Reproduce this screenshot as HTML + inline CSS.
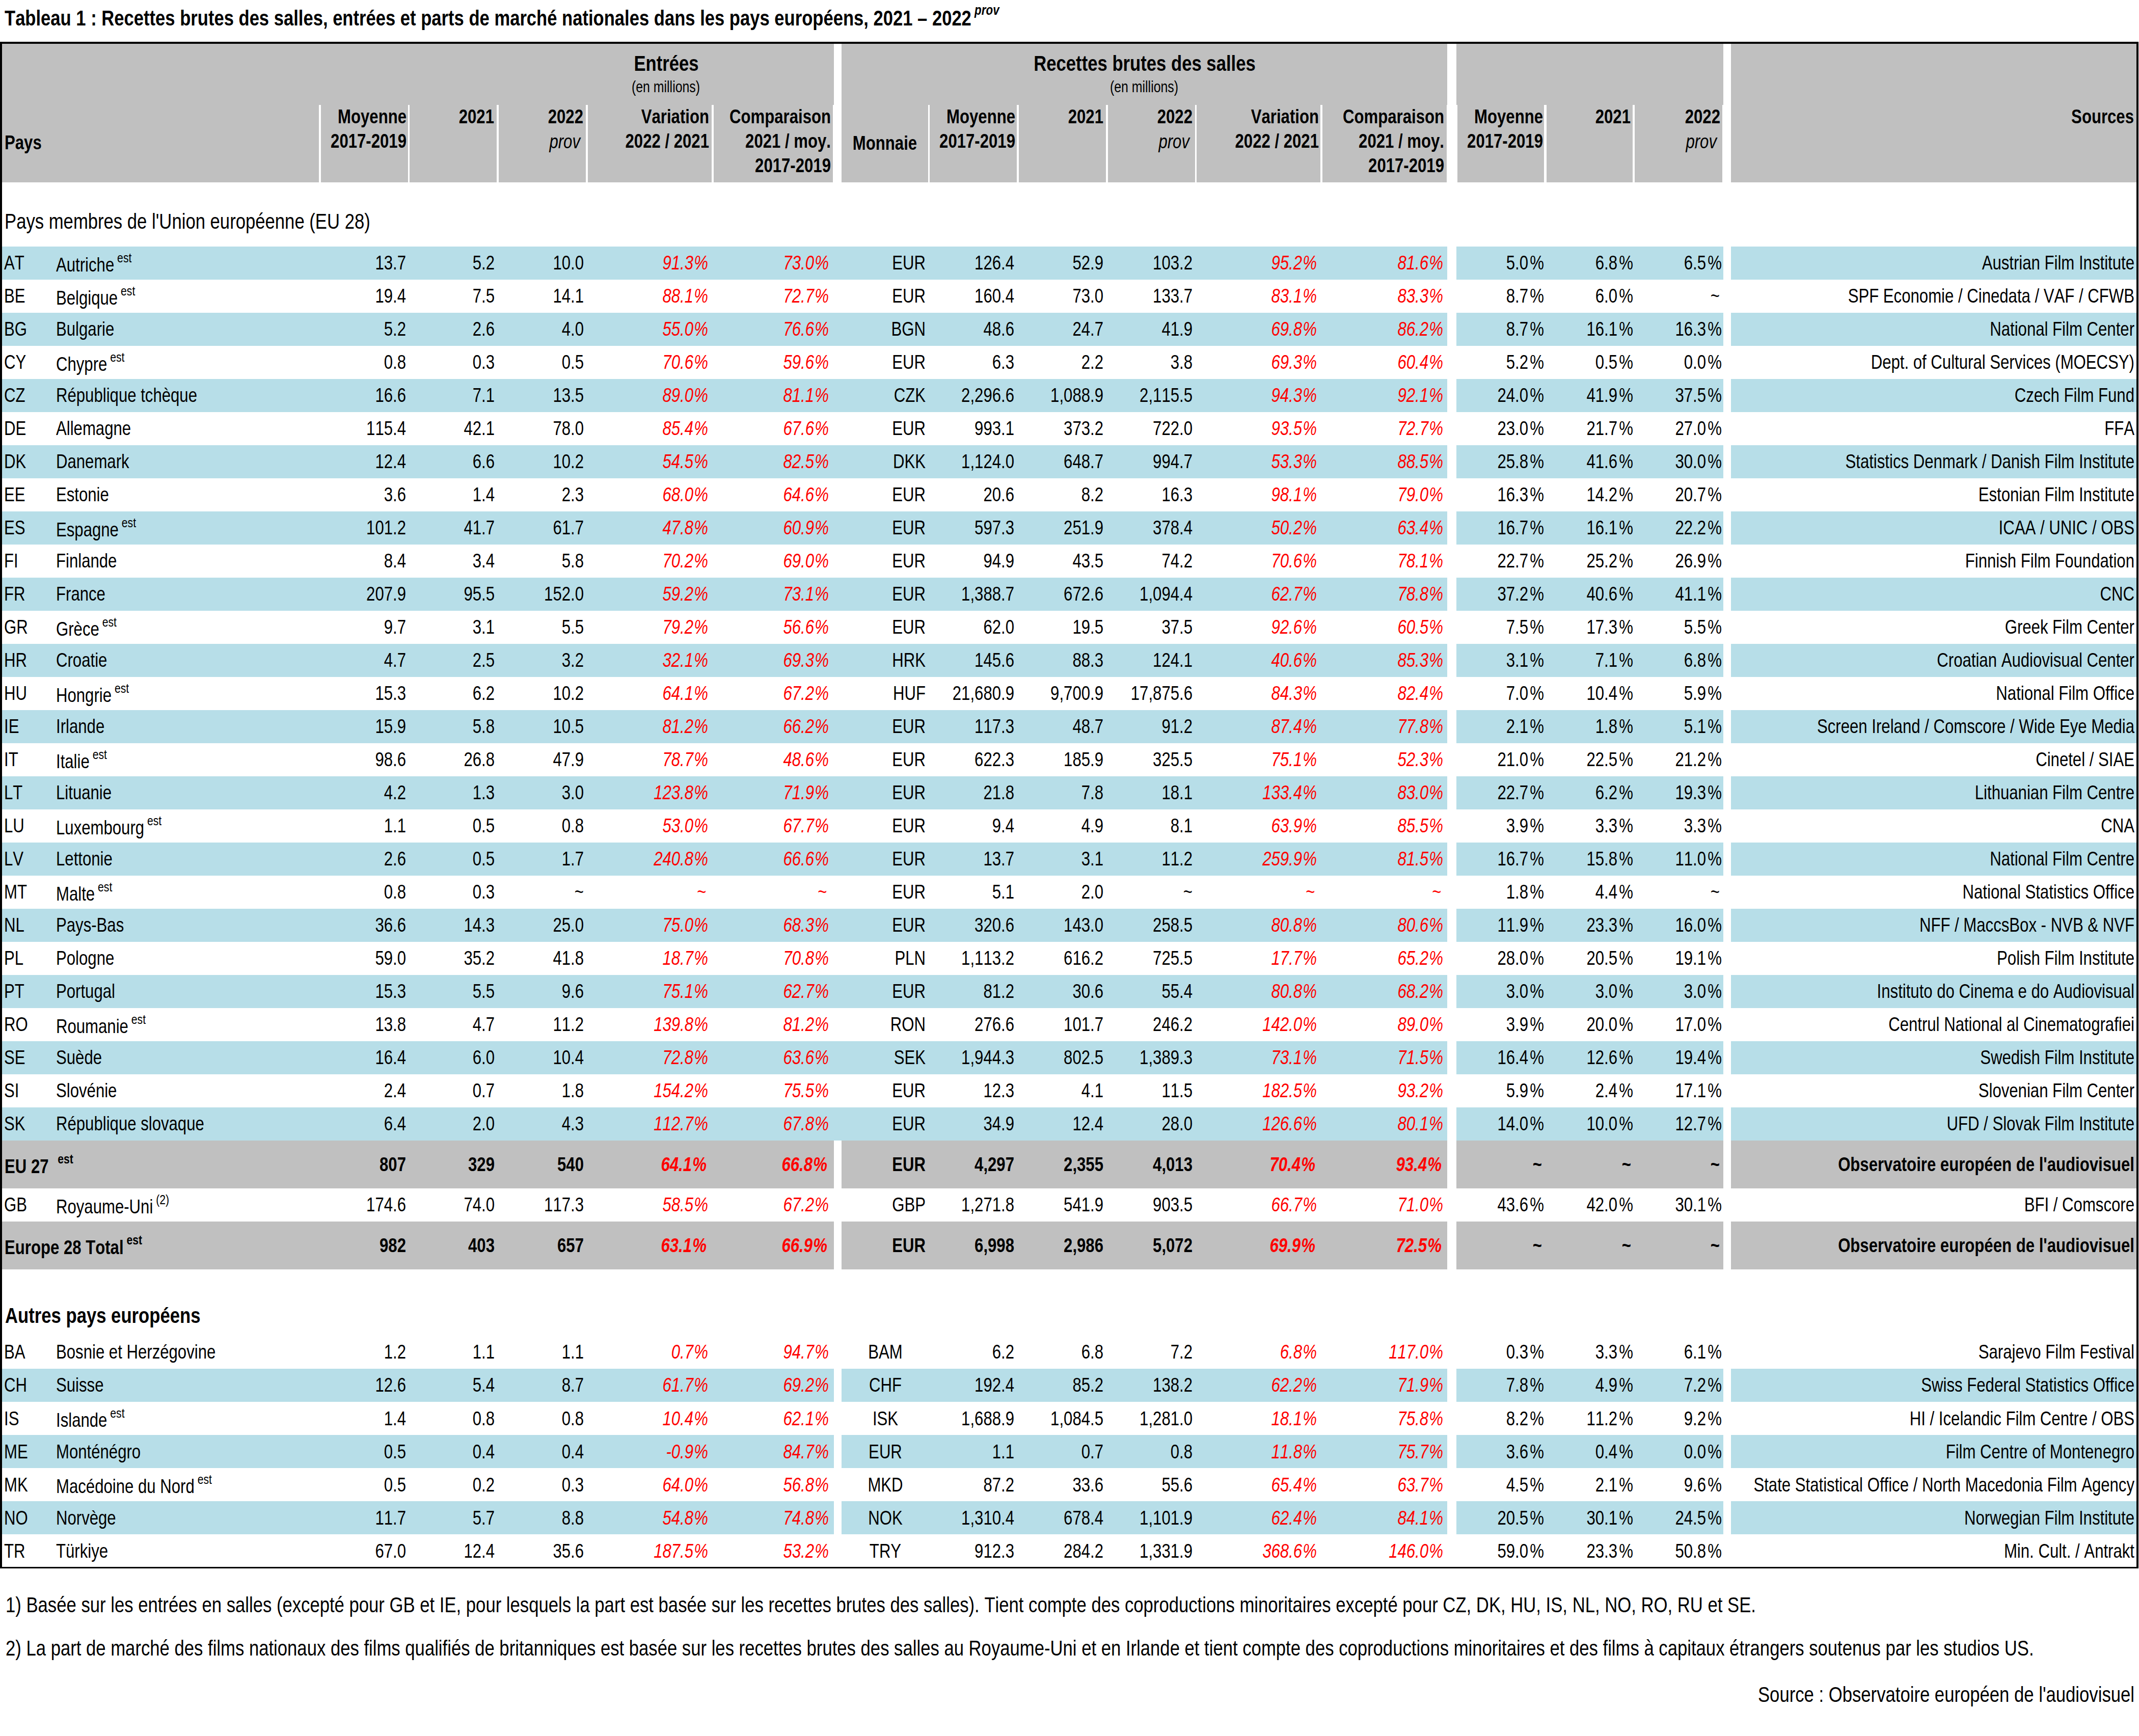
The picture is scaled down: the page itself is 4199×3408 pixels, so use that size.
<!DOCTYPE html>
<html lang="fr"><head><meta charset="utf-8"><title>Tableau 1</title>
<style>
html,body{margin:0;padding:0;background:#fff;}
body{width:4199px;height:3408px;position:relative;overflow:hidden;font-family:"Liberation Sans",Arial,sans-serif;color:#000;font-kerning:none;font-variant-ligatures:none;}
.r{position:absolute;}
.t{position:absolute;white-space:nowrap;line-height:1;transform:scaleX(0.814);}
.tl{transform-origin:0 0;}
.tr{width:3000px;text-align:right;transform-origin:100% 0;}
.tc{width:3000px;text-align:center;transform-origin:50% 0;}
.s{line-height:0;}
.pc{margin-left:4px;}
.i .pc{margin-left:1.5px;}
</style></head>
<body>
<div class="t tl" style="top:15.02px;font-size:42.5px;font-weight:bold;left:9.00px">Tableau 1 : Recettes brutes des salles, entrées et parts de marché nationales dans les pays européens, 2021 – 2022<span class="s" style="font-size:27.5px;vertical-align:21px;font-style:italic;"> prov</span></div>
<div class="r" style="left:0px;top:82px;width:4198px;height:4px;background:#000"></div>
<div class="r" style="left:0px;top:82px;width:4px;height:2997px;background:#000"></div>
<div class="r" style="left:4194px;top:82px;width:4px;height:2997px;background:#000"></div>
<div class="r" style="left:0px;top:3076px;width:4198px;height:3px;background:#000"></div>
<div class="r" style="left:4px;top:86px;width:1633px;height:120px;background:#c0c0c0"></div>
<div class="r" style="left:1652px;top:86px;width:1189px;height:120px;background:#c0c0c0"></div>
<div class="r" style="left:2859px;top:86px;width:524px;height:120px;background:#c0c0c0"></div>
<div class="r" style="left:3398px;top:86px;width:796px;height:120px;background:#c0c0c0"></div>
<div class="r" style="left:4px;top:206px;width:622px;height:152px;background:#c0c0c0"></div>
<div class="r" style="left:630px;top:206px;width:171px;height:152px;background:#c0c0c0"></div>
<div class="r" style="left:804px;top:206px;width:171px;height:152px;background:#c0c0c0"></div>
<div class="r" style="left:979px;top:206px;width:171px;height:152px;background:#c0c0c0"></div>
<div class="r" style="left:1154px;top:206px;width:243px;height:152px;background:#c0c0c0"></div>
<div class="r" style="left:1401px;top:206px;width:234px;height:152px;background:#c0c0c0"></div>
<div class="r" style="left:1652px;top:206px;width:170px;height:152px;background:#c0c0c0"></div>
<div class="r" style="left:1825px;top:206px;width:171px;height:152px;background:#c0c0c0"></div>
<div class="r" style="left:2000px;top:206px;width:171px;height:152px;background:#c0c0c0"></div>
<div class="r" style="left:2175px;top:206px;width:171px;height:152px;background:#c0c0c0"></div>
<div class="r" style="left:2349px;top:206px;width:243px;height:152px;background:#c0c0c0"></div>
<div class="r" style="left:2596px;top:206px;width:244px;height:152px;background:#c0c0c0"></div>
<div class="r" style="left:2861px;top:206px;width:170px;height:152px;background:#c0c0c0"></div>
<div class="r" style="left:3036px;top:206px;width:169px;height:152px;background:#c0c0c0"></div>
<div class="r" style="left:3209px;top:206px;width:172px;height:152px;background:#c0c0c0"></div>
<div class="r" style="left:3398px;top:206px;width:796px;height:152px;background:#c0c0c0"></div>
<div class="t tc" style="top:102.94px;font-size:42.6px;font-weight:bold;left:-192.50px">Entrées</div>
<div class="t tc" style="top:155.10px;font-size:30.6px;left:-193.00px">(en millions)</div>
<div class="t tc" style="top:102.94px;font-size:42.6px;font-weight:bold;left:746.50px">Recettes brutes des salles</div>
<div class="t tc" style="top:155.10px;font-size:30.6px;left:746.00px">(en millions)</div>
<div class="t tl" style="top:260.62px;font-size:38.25px;font-weight:bold;left:9.00px">Pays</div>
<div class="t tc" style="top:261.62px;font-size:38.25px;font-weight:bold;left:237.00px">Monnaie</div>
<div class="t tr" style="top:209.62px;font-size:38.25px;font-weight:bold;left:1189.00px">Sources</div>
<div class="t tr" style="top:209.62px;font-size:38.25px;font-weight:bold;left:-2202.50px">Moyenne</div>
<div class="t tr" style="top:257.62px;font-size:38.25px;font-weight:bold;left:-2202.50px">2017-2019</div>
<div class="t tr" style="top:209.62px;font-size:38.25px;font-weight:bold;left:-2030.00px">2021</div>
<div class="t tr" style="top:209.62px;font-size:38.25px;font-weight:bold;left:-1855.00px">2022</div>
<div class="t tr i" style="top:259.12px;font-size:38.25px;font-style:italic;left:-1861.50px">prov</div>
<div class="t tr" style="top:209.62px;font-size:38.25px;font-weight:bold;left:-1608.00px">Variation</div>
<div class="t tr" style="top:257.62px;font-size:38.25px;font-weight:bold;left:-1608.00px">2022 / 2021</div>
<div class="t tr" style="top:209.62px;font-size:38.25px;font-weight:bold;left:-1369.50px">Comparaison</div>
<div class="t tr" style="top:257.62px;font-size:38.25px;font-weight:bold;left:-1369.50px">2021 / moy.</div>
<div class="t tr" style="top:305.62px;font-size:38.25px;font-weight:bold;left:-1369.50px">2017-2019</div>
<div class="t tr" style="top:209.62px;font-size:38.25px;font-weight:bold;left:-1007.00px">Moyenne</div>
<div class="t tr" style="top:257.62px;font-size:38.25px;font-weight:bold;left:-1007.00px">2017-2019</div>
<div class="t tr" style="top:209.62px;font-size:38.25px;font-weight:bold;left:-834.00px">2021</div>
<div class="t tr" style="top:209.62px;font-size:38.25px;font-weight:bold;left:-659.00px">2022</div>
<div class="t tr i" style="top:259.12px;font-size:38.25px;font-style:italic;left:-665.50px">prov</div>
<div class="t tr" style="top:209.62px;font-size:38.25px;font-weight:bold;left:-411.50px">Variation</div>
<div class="t tr" style="top:257.62px;font-size:38.25px;font-weight:bold;left:-411.50px">2022 / 2021</div>
<div class="t tr" style="top:209.62px;font-size:38.25px;font-weight:bold;left:-165.50px">Comparaison</div>
<div class="t tr" style="top:257.62px;font-size:38.25px;font-weight:bold;left:-165.50px">2021 / moy.</div>
<div class="t tr" style="top:305.62px;font-size:38.25px;font-weight:bold;left:-165.50px">2017-2019</div>
<div class="t tr" style="top:209.62px;font-size:38.25px;font-weight:bold;left:28.50px">Moyenne</div>
<div class="t tr" style="top:257.62px;font-size:38.25px;font-weight:bold;left:28.50px">2017-2019</div>
<div class="t tr" style="top:209.62px;font-size:38.25px;font-weight:bold;left:201.00px">2021</div>
<div class="t tr" style="top:209.62px;font-size:38.25px;font-weight:bold;left:376.50px">2022</div>
<div class="t tr i" style="top:259.12px;font-size:38.25px;font-style:italic;left:370.00px">prov</div>
<div class="t tl" style="top:412.94px;font-size:42.6px;left:9.00px">Pays membres de l'Union européenne (EU 28)</div>
<div class="r" style="left:4px;top:484px;width:2837px;height:65px;background:#b7dee8"></div>
<div class="r" style="left:2859px;top:484px;width:524px;height:65px;background:#b7dee8"></div>
<div class="r" style="left:3398px;top:484px;width:796px;height:65px;background:#b7dee8"></div>
<div class="t tl" style="top:496.62px;font-size:38.25px;left:8.00px">AT</div>
<div class="t tl" style="top:500.62px;font-size:38.25px;left:110.00px">Autriche<span class="s" style="font-size:26px;vertical-align:18px;"> est</span></div>
<div class="t tr" style="top:496.62px;font-size:38.25px;left:-2203.50px">13.7</div>
<div class="t tr" style="top:496.62px;font-size:38.25px;left:-2029.50px">5.2</div>
<div class="t tr" style="top:496.62px;font-size:38.25px;left:-1854.00px">10.0</div>
<div class="t tr i" style="top:496.62px;font-size:38.25px;font-style:italic;color:#ff0000;left:-1610.00px">91.3<span class="pc">%</span></div>
<div class="t tr i" style="top:496.62px;font-size:38.25px;font-style:italic;color:#ff0000;left:-1373.00px">73.0<span class="pc">%</span></div>
<div class="t tr" style="top:496.62px;font-size:38.25px;left:-1183.00px">EUR</div>
<div class="t tr" style="top:496.62px;font-size:38.25px;left:-1009.50px">126.4</div>
<div class="t tr" style="top:496.62px;font-size:38.25px;left:-834.00px">52.9</div>
<div class="t tr" style="top:496.62px;font-size:38.25px;left:-659.00px">103.2</div>
<div class="t tr i" style="top:496.62px;font-size:38.25px;font-style:italic;color:#ff0000;left:-415.00px">95.2<span class="pc">%</span></div>
<div class="t tr i" style="top:496.62px;font-size:38.25px;font-style:italic;color:#ff0000;left:-167.00px">81.6<span class="pc">%</span></div>
<div class="t tr" style="top:496.62px;font-size:38.25px;left:31.00px">5.0<span class="pc">%</span></div>
<div class="t tr" style="top:496.62px;font-size:38.25px;left:206.00px">6.8<span class="pc">%</span></div>
<div class="t tr" style="top:496.62px;font-size:38.25px;left:380.00px">6.5<span class="pc">%</span></div>
<div class="t tr" style="top:496.62px;font-size:38.25px;left:1190.00px">Austrian Film Institute</div>
<div class="t tl" style="top:561.62px;font-size:38.25px;left:8.00px">BE</div>
<div class="t tl" style="top:565.62px;font-size:38.25px;left:110.00px">Belgique<span class="s" style="font-size:26px;vertical-align:18px;"> est</span></div>
<div class="t tr" style="top:561.62px;font-size:38.25px;left:-2203.50px">19.4</div>
<div class="t tr" style="top:561.62px;font-size:38.25px;left:-2029.50px">7.5</div>
<div class="t tr" style="top:561.62px;font-size:38.25px;left:-1854.00px">14.1</div>
<div class="t tr i" style="top:561.62px;font-size:38.25px;font-style:italic;color:#ff0000;left:-1610.00px">88.1<span class="pc">%</span></div>
<div class="t tr i" style="top:561.62px;font-size:38.25px;font-style:italic;color:#ff0000;left:-1373.00px">72.7<span class="pc">%</span></div>
<div class="t tr" style="top:561.62px;font-size:38.25px;left:-1183.00px">EUR</div>
<div class="t tr" style="top:561.62px;font-size:38.25px;left:-1009.50px">160.4</div>
<div class="t tr" style="top:561.62px;font-size:38.25px;left:-834.00px">73.0</div>
<div class="t tr" style="top:561.62px;font-size:38.25px;left:-659.00px">133.7</div>
<div class="t tr i" style="top:561.62px;font-size:38.25px;font-style:italic;color:#ff0000;left:-415.00px">83.1<span class="pc">%</span></div>
<div class="t tr i" style="top:561.62px;font-size:38.25px;font-style:italic;color:#ff0000;left:-167.00px">83.3<span class="pc">%</span></div>
<div class="t tr" style="top:561.62px;font-size:38.25px;left:31.00px">8.7<span class="pc">%</span></div>
<div class="t tr" style="top:561.62px;font-size:38.25px;left:206.00px">6.0<span class="pc">%</span></div>
<div class="t tr" style="top:561.62px;font-size:38.25px;left:376.00px">~</div>
<div class="t tr" style="top:561.62px;font-size:38.25px;left:1190.00px">SPF Economie / Cinedata / VAF / CFWB</div>
<div class="r" style="left:4px;top:614px;width:2837px;height:65px;background:#b7dee8"></div>
<div class="r" style="left:2859px;top:614px;width:524px;height:65px;background:#b7dee8"></div>
<div class="r" style="left:3398px;top:614px;width:796px;height:65px;background:#b7dee8"></div>
<div class="t tl" style="top:626.62px;font-size:38.25px;left:8.00px">BG</div>
<div class="t tl" style="top:626.62px;font-size:38.25px;left:110.00px">Bulgarie</div>
<div class="t tr" style="top:626.62px;font-size:38.25px;left:-2203.50px">5.2</div>
<div class="t tr" style="top:626.62px;font-size:38.25px;left:-2029.50px">2.6</div>
<div class="t tr" style="top:626.62px;font-size:38.25px;left:-1854.00px">4.0</div>
<div class="t tr i" style="top:626.62px;font-size:38.25px;font-style:italic;color:#ff0000;left:-1610.00px">55.0<span class="pc">%</span></div>
<div class="t tr i" style="top:626.62px;font-size:38.25px;font-style:italic;color:#ff0000;left:-1373.00px">76.6<span class="pc">%</span></div>
<div class="t tr" style="top:626.62px;font-size:38.25px;left:-1183.00px">BGN</div>
<div class="t tr" style="top:626.62px;font-size:38.25px;left:-1009.50px">48.6</div>
<div class="t tr" style="top:626.62px;font-size:38.25px;left:-834.00px">24.7</div>
<div class="t tr" style="top:626.62px;font-size:38.25px;left:-659.00px">41.9</div>
<div class="t tr i" style="top:626.62px;font-size:38.25px;font-style:italic;color:#ff0000;left:-415.00px">69.8<span class="pc">%</span></div>
<div class="t tr i" style="top:626.62px;font-size:38.25px;font-style:italic;color:#ff0000;left:-167.00px">86.2<span class="pc">%</span></div>
<div class="t tr" style="top:626.62px;font-size:38.25px;left:31.00px">8.7<span class="pc">%</span></div>
<div class="t tr" style="top:626.62px;font-size:38.25px;left:206.00px">16.1<span class="pc">%</span></div>
<div class="t tr" style="top:626.62px;font-size:38.25px;left:380.00px">16.3<span class="pc">%</span></div>
<div class="t tr" style="top:626.62px;font-size:38.25px;left:1190.00px">National Film Center</div>
<div class="t tl" style="top:691.62px;font-size:38.25px;left:8.00px">CY</div>
<div class="t tl" style="top:695.62px;font-size:38.25px;left:110.00px">Chypre<span class="s" style="font-size:26px;vertical-align:18px;"> est</span></div>
<div class="t tr" style="top:691.62px;font-size:38.25px;left:-2203.50px">0.8</div>
<div class="t tr" style="top:691.62px;font-size:38.25px;left:-2029.50px">0.3</div>
<div class="t tr" style="top:691.62px;font-size:38.25px;left:-1854.00px">0.5</div>
<div class="t tr i" style="top:691.62px;font-size:38.25px;font-style:italic;color:#ff0000;left:-1610.00px">70.6<span class="pc">%</span></div>
<div class="t tr i" style="top:691.62px;font-size:38.25px;font-style:italic;color:#ff0000;left:-1373.00px">59.6<span class="pc">%</span></div>
<div class="t tr" style="top:691.62px;font-size:38.25px;left:-1183.00px">EUR</div>
<div class="t tr" style="top:691.62px;font-size:38.25px;left:-1009.50px">6.3</div>
<div class="t tr" style="top:691.62px;font-size:38.25px;left:-834.00px">2.2</div>
<div class="t tr" style="top:691.62px;font-size:38.25px;left:-659.00px">3.8</div>
<div class="t tr i" style="top:691.62px;font-size:38.25px;font-style:italic;color:#ff0000;left:-415.00px">69.3<span class="pc">%</span></div>
<div class="t tr i" style="top:691.62px;font-size:38.25px;font-style:italic;color:#ff0000;left:-167.00px">60.4<span class="pc">%</span></div>
<div class="t tr" style="top:691.62px;font-size:38.25px;left:31.00px">5.2<span class="pc">%</span></div>
<div class="t tr" style="top:691.62px;font-size:38.25px;left:206.00px">0.5<span class="pc">%</span></div>
<div class="t tr" style="top:691.62px;font-size:38.25px;left:380.00px">0.0<span class="pc">%</span></div>
<div class="t tr" style="top:691.62px;font-size:38.25px;left:1190.00px">Dept. of Cultural Services (MOECSY)</div>
<div class="r" style="left:4px;top:744px;width:2837px;height:65px;background:#b7dee8"></div>
<div class="r" style="left:2859px;top:744px;width:524px;height:65px;background:#b7dee8"></div>
<div class="r" style="left:3398px;top:744px;width:796px;height:65px;background:#b7dee8"></div>
<div class="t tl" style="top:756.62px;font-size:38.25px;left:8.00px">CZ</div>
<div class="t tl" style="top:756.62px;font-size:38.25px;left:110.00px">République tchèque</div>
<div class="t tr" style="top:756.62px;font-size:38.25px;left:-2203.50px">16.6</div>
<div class="t tr" style="top:756.62px;font-size:38.25px;left:-2029.50px">7.1</div>
<div class="t tr" style="top:756.62px;font-size:38.25px;left:-1854.00px">13.5</div>
<div class="t tr i" style="top:756.62px;font-size:38.25px;font-style:italic;color:#ff0000;left:-1610.00px">89.0<span class="pc">%</span></div>
<div class="t tr i" style="top:756.62px;font-size:38.25px;font-style:italic;color:#ff0000;left:-1373.00px">81.1<span class="pc">%</span></div>
<div class="t tr" style="top:756.62px;font-size:38.25px;left:-1183.00px">CZK</div>
<div class="t tr" style="top:756.62px;font-size:38.25px;left:-1009.50px">2,296.6</div>
<div class="t tr" style="top:756.62px;font-size:38.25px;left:-834.00px">1,088.9</div>
<div class="t tr" style="top:756.62px;font-size:38.25px;left:-659.00px">2,115.5</div>
<div class="t tr i" style="top:756.62px;font-size:38.25px;font-style:italic;color:#ff0000;left:-415.00px">94.3<span class="pc">%</span></div>
<div class="t tr i" style="top:756.62px;font-size:38.25px;font-style:italic;color:#ff0000;left:-167.00px">92.1<span class="pc">%</span></div>
<div class="t tr" style="top:756.62px;font-size:38.25px;left:31.00px">24.0<span class="pc">%</span></div>
<div class="t tr" style="top:756.62px;font-size:38.25px;left:206.00px">41.9<span class="pc">%</span></div>
<div class="t tr" style="top:756.62px;font-size:38.25px;left:380.00px">37.5<span class="pc">%</span></div>
<div class="t tr" style="top:756.62px;font-size:38.25px;left:1190.00px">Czech Film Fund</div>
<div class="t tl" style="top:821.62px;font-size:38.25px;left:8.00px">DE</div>
<div class="t tl" style="top:821.62px;font-size:38.25px;left:110.00px">Allemagne</div>
<div class="t tr" style="top:821.62px;font-size:38.25px;left:-2203.50px">115.4</div>
<div class="t tr" style="top:821.62px;font-size:38.25px;left:-2029.50px">42.1</div>
<div class="t tr" style="top:821.62px;font-size:38.25px;left:-1854.00px">78.0</div>
<div class="t tr i" style="top:821.62px;font-size:38.25px;font-style:italic;color:#ff0000;left:-1610.00px">85.4<span class="pc">%</span></div>
<div class="t tr i" style="top:821.62px;font-size:38.25px;font-style:italic;color:#ff0000;left:-1373.00px">67.6<span class="pc">%</span></div>
<div class="t tr" style="top:821.62px;font-size:38.25px;left:-1183.00px">EUR</div>
<div class="t tr" style="top:821.62px;font-size:38.25px;left:-1009.50px">993.1</div>
<div class="t tr" style="top:821.62px;font-size:38.25px;left:-834.00px">373.2</div>
<div class="t tr" style="top:821.62px;font-size:38.25px;left:-659.00px">722.0</div>
<div class="t tr i" style="top:821.62px;font-size:38.25px;font-style:italic;color:#ff0000;left:-415.00px">93.5<span class="pc">%</span></div>
<div class="t tr i" style="top:821.62px;font-size:38.25px;font-style:italic;color:#ff0000;left:-167.00px">72.7<span class="pc">%</span></div>
<div class="t tr" style="top:821.62px;font-size:38.25px;left:31.00px">23.0<span class="pc">%</span></div>
<div class="t tr" style="top:821.62px;font-size:38.25px;left:206.00px">21.7<span class="pc">%</span></div>
<div class="t tr" style="top:821.62px;font-size:38.25px;left:380.00px">27.0<span class="pc">%</span></div>
<div class="t tr" style="top:821.62px;font-size:38.25px;left:1190.00px">FFA</div>
<div class="r" style="left:4px;top:874px;width:2837px;height:65px;background:#b7dee8"></div>
<div class="r" style="left:2859px;top:874px;width:524px;height:65px;background:#b7dee8"></div>
<div class="r" style="left:3398px;top:874px;width:796px;height:65px;background:#b7dee8"></div>
<div class="t tl" style="top:886.62px;font-size:38.25px;left:8.00px">DK</div>
<div class="t tl" style="top:886.62px;font-size:38.25px;left:110.00px">Danemark</div>
<div class="t tr" style="top:886.62px;font-size:38.25px;left:-2203.50px">12.4</div>
<div class="t tr" style="top:886.62px;font-size:38.25px;left:-2029.50px">6.6</div>
<div class="t tr" style="top:886.62px;font-size:38.25px;left:-1854.00px">10.2</div>
<div class="t tr i" style="top:886.62px;font-size:38.25px;font-style:italic;color:#ff0000;left:-1610.00px">54.5<span class="pc">%</span></div>
<div class="t tr i" style="top:886.62px;font-size:38.25px;font-style:italic;color:#ff0000;left:-1373.00px">82.5<span class="pc">%</span></div>
<div class="t tr" style="top:886.62px;font-size:38.25px;left:-1183.00px">DKK</div>
<div class="t tr" style="top:886.62px;font-size:38.25px;left:-1009.50px">1,124.0</div>
<div class="t tr" style="top:886.62px;font-size:38.25px;left:-834.00px">648.7</div>
<div class="t tr" style="top:886.62px;font-size:38.25px;left:-659.00px">994.7</div>
<div class="t tr i" style="top:886.62px;font-size:38.25px;font-style:italic;color:#ff0000;left:-415.00px">53.3<span class="pc">%</span></div>
<div class="t tr i" style="top:886.62px;font-size:38.25px;font-style:italic;color:#ff0000;left:-167.00px">88.5<span class="pc">%</span></div>
<div class="t tr" style="top:886.62px;font-size:38.25px;left:31.00px">25.8<span class="pc">%</span></div>
<div class="t tr" style="top:886.62px;font-size:38.25px;left:206.00px">41.6<span class="pc">%</span></div>
<div class="t tr" style="top:886.62px;font-size:38.25px;left:380.00px">30.0<span class="pc">%</span></div>
<div class="t tr" style="top:886.62px;font-size:38.25px;left:1190.00px">Statistics Denmark / Danish Film Institute</div>
<div class="t tl" style="top:951.62px;font-size:38.25px;left:8.00px">EE</div>
<div class="t tl" style="top:951.62px;font-size:38.25px;left:110.00px">Estonie</div>
<div class="t tr" style="top:951.62px;font-size:38.25px;left:-2203.50px">3.6</div>
<div class="t tr" style="top:951.62px;font-size:38.25px;left:-2029.50px">1.4</div>
<div class="t tr" style="top:951.62px;font-size:38.25px;left:-1854.00px">2.3</div>
<div class="t tr i" style="top:951.62px;font-size:38.25px;font-style:italic;color:#ff0000;left:-1610.00px">68.0<span class="pc">%</span></div>
<div class="t tr i" style="top:951.62px;font-size:38.25px;font-style:italic;color:#ff0000;left:-1373.00px">64.6<span class="pc">%</span></div>
<div class="t tr" style="top:951.62px;font-size:38.25px;left:-1183.00px">EUR</div>
<div class="t tr" style="top:951.62px;font-size:38.25px;left:-1009.50px">20.6</div>
<div class="t tr" style="top:951.62px;font-size:38.25px;left:-834.00px">8.2</div>
<div class="t tr" style="top:951.62px;font-size:38.25px;left:-659.00px">16.3</div>
<div class="t tr i" style="top:951.62px;font-size:38.25px;font-style:italic;color:#ff0000;left:-415.00px">98.1<span class="pc">%</span></div>
<div class="t tr i" style="top:951.62px;font-size:38.25px;font-style:italic;color:#ff0000;left:-167.00px">79.0<span class="pc">%</span></div>
<div class="t tr" style="top:951.62px;font-size:38.25px;left:31.00px">16.3<span class="pc">%</span></div>
<div class="t tr" style="top:951.62px;font-size:38.25px;left:206.00px">14.2<span class="pc">%</span></div>
<div class="t tr" style="top:951.62px;font-size:38.25px;left:380.00px">20.7<span class="pc">%</span></div>
<div class="t tr" style="top:951.62px;font-size:38.25px;left:1190.00px">Estonian Film Institute</div>
<div class="r" style="left:4px;top:1004px;width:2837px;height:65px;background:#b7dee8"></div>
<div class="r" style="left:2859px;top:1004px;width:524px;height:65px;background:#b7dee8"></div>
<div class="r" style="left:3398px;top:1004px;width:796px;height:65px;background:#b7dee8"></div>
<div class="t tl" style="top:1016.62px;font-size:38.25px;left:8.00px">ES</div>
<div class="t tl" style="top:1020.62px;font-size:38.25px;left:110.00px">Espagne<span class="s" style="font-size:26px;vertical-align:18px;"> est</span></div>
<div class="t tr" style="top:1016.62px;font-size:38.25px;left:-2203.50px">101.2</div>
<div class="t tr" style="top:1016.62px;font-size:38.25px;left:-2029.50px">41.7</div>
<div class="t tr" style="top:1016.62px;font-size:38.25px;left:-1854.00px">61.7</div>
<div class="t tr i" style="top:1016.62px;font-size:38.25px;font-style:italic;color:#ff0000;left:-1610.00px">47.8<span class="pc">%</span></div>
<div class="t tr i" style="top:1016.62px;font-size:38.25px;font-style:italic;color:#ff0000;left:-1373.00px">60.9<span class="pc">%</span></div>
<div class="t tr" style="top:1016.62px;font-size:38.25px;left:-1183.00px">EUR</div>
<div class="t tr" style="top:1016.62px;font-size:38.25px;left:-1009.50px">597.3</div>
<div class="t tr" style="top:1016.62px;font-size:38.25px;left:-834.00px">251.9</div>
<div class="t tr" style="top:1016.62px;font-size:38.25px;left:-659.00px">378.4</div>
<div class="t tr i" style="top:1016.62px;font-size:38.25px;font-style:italic;color:#ff0000;left:-415.00px">50.2<span class="pc">%</span></div>
<div class="t tr i" style="top:1016.62px;font-size:38.25px;font-style:italic;color:#ff0000;left:-167.00px">63.4<span class="pc">%</span></div>
<div class="t tr" style="top:1016.62px;font-size:38.25px;left:31.00px">16.7<span class="pc">%</span></div>
<div class="t tr" style="top:1016.62px;font-size:38.25px;left:206.00px">16.1<span class="pc">%</span></div>
<div class="t tr" style="top:1016.62px;font-size:38.25px;left:380.00px">22.2<span class="pc">%</span></div>
<div class="t tr" style="top:1016.62px;font-size:38.25px;left:1190.00px">ICAA / UNIC / OBS</div>
<div class="t tl" style="top:1081.62px;font-size:38.25px;left:8.00px">FI</div>
<div class="t tl" style="top:1081.62px;font-size:38.25px;left:110.00px">Finlande</div>
<div class="t tr" style="top:1081.62px;font-size:38.25px;left:-2203.50px">8.4</div>
<div class="t tr" style="top:1081.62px;font-size:38.25px;left:-2029.50px">3.4</div>
<div class="t tr" style="top:1081.62px;font-size:38.25px;left:-1854.00px">5.8</div>
<div class="t tr i" style="top:1081.62px;font-size:38.25px;font-style:italic;color:#ff0000;left:-1610.00px">70.2<span class="pc">%</span></div>
<div class="t tr i" style="top:1081.62px;font-size:38.25px;font-style:italic;color:#ff0000;left:-1373.00px">69.0<span class="pc">%</span></div>
<div class="t tr" style="top:1081.62px;font-size:38.25px;left:-1183.00px">EUR</div>
<div class="t tr" style="top:1081.62px;font-size:38.25px;left:-1009.50px">94.9</div>
<div class="t tr" style="top:1081.62px;font-size:38.25px;left:-834.00px">43.5</div>
<div class="t tr" style="top:1081.62px;font-size:38.25px;left:-659.00px">74.2</div>
<div class="t tr i" style="top:1081.62px;font-size:38.25px;font-style:italic;color:#ff0000;left:-415.00px">70.6<span class="pc">%</span></div>
<div class="t tr i" style="top:1081.62px;font-size:38.25px;font-style:italic;color:#ff0000;left:-167.00px">78.1<span class="pc">%</span></div>
<div class="t tr" style="top:1081.62px;font-size:38.25px;left:31.00px">22.7<span class="pc">%</span></div>
<div class="t tr" style="top:1081.62px;font-size:38.25px;left:206.00px">25.2<span class="pc">%</span></div>
<div class="t tr" style="top:1081.62px;font-size:38.25px;left:380.00px">26.9<span class="pc">%</span></div>
<div class="t tr" style="top:1081.62px;font-size:38.25px;left:1190.00px">Finnish Film Foundation</div>
<div class="r" style="left:4px;top:1134px;width:2837px;height:65px;background:#b7dee8"></div>
<div class="r" style="left:2859px;top:1134px;width:524px;height:65px;background:#b7dee8"></div>
<div class="r" style="left:3398px;top:1134px;width:796px;height:65px;background:#b7dee8"></div>
<div class="t tl" style="top:1146.62px;font-size:38.25px;left:8.00px">FR</div>
<div class="t tl" style="top:1146.62px;font-size:38.25px;left:110.00px">France</div>
<div class="t tr" style="top:1146.62px;font-size:38.25px;left:-2203.50px">207.9</div>
<div class="t tr" style="top:1146.62px;font-size:38.25px;left:-2029.50px">95.5</div>
<div class="t tr" style="top:1146.62px;font-size:38.25px;left:-1854.00px">152.0</div>
<div class="t tr i" style="top:1146.62px;font-size:38.25px;font-style:italic;color:#ff0000;left:-1610.00px">59.2<span class="pc">%</span></div>
<div class="t tr i" style="top:1146.62px;font-size:38.25px;font-style:italic;color:#ff0000;left:-1373.00px">73.1<span class="pc">%</span></div>
<div class="t tr" style="top:1146.62px;font-size:38.25px;left:-1183.00px">EUR</div>
<div class="t tr" style="top:1146.62px;font-size:38.25px;left:-1009.50px">1,388.7</div>
<div class="t tr" style="top:1146.62px;font-size:38.25px;left:-834.00px">672.6</div>
<div class="t tr" style="top:1146.62px;font-size:38.25px;left:-659.00px">1,094.4</div>
<div class="t tr i" style="top:1146.62px;font-size:38.25px;font-style:italic;color:#ff0000;left:-415.00px">62.7<span class="pc">%</span></div>
<div class="t tr i" style="top:1146.62px;font-size:38.25px;font-style:italic;color:#ff0000;left:-167.00px">78.8<span class="pc">%</span></div>
<div class="t tr" style="top:1146.62px;font-size:38.25px;left:31.00px">37.2<span class="pc">%</span></div>
<div class="t tr" style="top:1146.62px;font-size:38.25px;left:206.00px">40.6<span class="pc">%</span></div>
<div class="t tr" style="top:1146.62px;font-size:38.25px;left:380.00px">41.1<span class="pc">%</span></div>
<div class="t tr" style="top:1146.62px;font-size:38.25px;left:1190.00px">CNC</div>
<div class="t tl" style="top:1211.62px;font-size:38.25px;left:8.00px">GR</div>
<div class="t tl" style="top:1215.62px;font-size:38.25px;left:110.00px">Grèce<span class="s" style="font-size:26px;vertical-align:18px;"> est</span></div>
<div class="t tr" style="top:1211.62px;font-size:38.25px;left:-2203.50px">9.7</div>
<div class="t tr" style="top:1211.62px;font-size:38.25px;left:-2029.50px">3.1</div>
<div class="t tr" style="top:1211.62px;font-size:38.25px;left:-1854.00px">5.5</div>
<div class="t tr i" style="top:1211.62px;font-size:38.25px;font-style:italic;color:#ff0000;left:-1610.00px">79.2<span class="pc">%</span></div>
<div class="t tr i" style="top:1211.62px;font-size:38.25px;font-style:italic;color:#ff0000;left:-1373.00px">56.6<span class="pc">%</span></div>
<div class="t tr" style="top:1211.62px;font-size:38.25px;left:-1183.00px">EUR</div>
<div class="t tr" style="top:1211.62px;font-size:38.25px;left:-1009.50px">62.0</div>
<div class="t tr" style="top:1211.62px;font-size:38.25px;left:-834.00px">19.5</div>
<div class="t tr" style="top:1211.62px;font-size:38.25px;left:-659.00px">37.5</div>
<div class="t tr i" style="top:1211.62px;font-size:38.25px;font-style:italic;color:#ff0000;left:-415.00px">92.6<span class="pc">%</span></div>
<div class="t tr i" style="top:1211.62px;font-size:38.25px;font-style:italic;color:#ff0000;left:-167.00px">60.5<span class="pc">%</span></div>
<div class="t tr" style="top:1211.62px;font-size:38.25px;left:31.00px">7.5<span class="pc">%</span></div>
<div class="t tr" style="top:1211.62px;font-size:38.25px;left:206.00px">17.3<span class="pc">%</span></div>
<div class="t tr" style="top:1211.62px;font-size:38.25px;left:380.00px">5.5<span class="pc">%</span></div>
<div class="t tr" style="top:1211.62px;font-size:38.25px;left:1190.00px">Greek Film Center</div>
<div class="r" style="left:4px;top:1264px;width:2837px;height:65px;background:#b7dee8"></div>
<div class="r" style="left:2859px;top:1264px;width:524px;height:65px;background:#b7dee8"></div>
<div class="r" style="left:3398px;top:1264px;width:796px;height:65px;background:#b7dee8"></div>
<div class="t tl" style="top:1276.62px;font-size:38.25px;left:8.00px">HR</div>
<div class="t tl" style="top:1276.62px;font-size:38.25px;left:110.00px">Croatie</div>
<div class="t tr" style="top:1276.62px;font-size:38.25px;left:-2203.50px">4.7</div>
<div class="t tr" style="top:1276.62px;font-size:38.25px;left:-2029.50px">2.5</div>
<div class="t tr" style="top:1276.62px;font-size:38.25px;left:-1854.00px">3.2</div>
<div class="t tr i" style="top:1276.62px;font-size:38.25px;font-style:italic;color:#ff0000;left:-1610.00px">32.1<span class="pc">%</span></div>
<div class="t tr i" style="top:1276.62px;font-size:38.25px;font-style:italic;color:#ff0000;left:-1373.00px">69.3<span class="pc">%</span></div>
<div class="t tr" style="top:1276.62px;font-size:38.25px;left:-1183.00px">HRK</div>
<div class="t tr" style="top:1276.62px;font-size:38.25px;left:-1009.50px">145.6</div>
<div class="t tr" style="top:1276.62px;font-size:38.25px;left:-834.00px">88.3</div>
<div class="t tr" style="top:1276.62px;font-size:38.25px;left:-659.00px">124.1</div>
<div class="t tr i" style="top:1276.62px;font-size:38.25px;font-style:italic;color:#ff0000;left:-415.00px">40.6<span class="pc">%</span></div>
<div class="t tr i" style="top:1276.62px;font-size:38.25px;font-style:italic;color:#ff0000;left:-167.00px">85.3<span class="pc">%</span></div>
<div class="t tr" style="top:1276.62px;font-size:38.25px;left:31.00px">3.1<span class="pc">%</span></div>
<div class="t tr" style="top:1276.62px;font-size:38.25px;left:206.00px">7.1<span class="pc">%</span></div>
<div class="t tr" style="top:1276.62px;font-size:38.25px;left:380.00px">6.8<span class="pc">%</span></div>
<div class="t tr" style="top:1276.62px;font-size:38.25px;left:1190.00px">Croatian Audiovisual Center</div>
<div class="t tl" style="top:1341.62px;font-size:38.25px;left:8.00px">HU</div>
<div class="t tl" style="top:1345.62px;font-size:38.25px;left:110.00px">Hongrie<span class="s" style="font-size:26px;vertical-align:18px;"> est</span></div>
<div class="t tr" style="top:1341.62px;font-size:38.25px;left:-2203.50px">15.3</div>
<div class="t tr" style="top:1341.62px;font-size:38.25px;left:-2029.50px">6.2</div>
<div class="t tr" style="top:1341.62px;font-size:38.25px;left:-1854.00px">10.2</div>
<div class="t tr i" style="top:1341.62px;font-size:38.25px;font-style:italic;color:#ff0000;left:-1610.00px">64.1<span class="pc">%</span></div>
<div class="t tr i" style="top:1341.62px;font-size:38.25px;font-style:italic;color:#ff0000;left:-1373.00px">67.2<span class="pc">%</span></div>
<div class="t tr" style="top:1341.62px;font-size:38.25px;left:-1183.00px">HUF</div>
<div class="t tr" style="top:1341.62px;font-size:38.25px;left:-1009.50px">21,680.9</div>
<div class="t tr" style="top:1341.62px;font-size:38.25px;left:-834.00px">9,700.9</div>
<div class="t tr" style="top:1341.62px;font-size:38.25px;left:-659.00px">17,875.6</div>
<div class="t tr i" style="top:1341.62px;font-size:38.25px;font-style:italic;color:#ff0000;left:-415.00px">84.3<span class="pc">%</span></div>
<div class="t tr i" style="top:1341.62px;font-size:38.25px;font-style:italic;color:#ff0000;left:-167.00px">82.4<span class="pc">%</span></div>
<div class="t tr" style="top:1341.62px;font-size:38.25px;left:31.00px">7.0<span class="pc">%</span></div>
<div class="t tr" style="top:1341.62px;font-size:38.25px;left:206.00px">10.4<span class="pc">%</span></div>
<div class="t tr" style="top:1341.62px;font-size:38.25px;left:380.00px">5.9<span class="pc">%</span></div>
<div class="t tr" style="top:1341.62px;font-size:38.25px;left:1190.00px">National Film Office</div>
<div class="r" style="left:4px;top:1394px;width:2837px;height:65px;background:#b7dee8"></div>
<div class="r" style="left:2859px;top:1394px;width:524px;height:65px;background:#b7dee8"></div>
<div class="r" style="left:3398px;top:1394px;width:796px;height:65px;background:#b7dee8"></div>
<div class="t tl" style="top:1406.62px;font-size:38.25px;left:8.00px">IE</div>
<div class="t tl" style="top:1406.62px;font-size:38.25px;left:110.00px">Irlande</div>
<div class="t tr" style="top:1406.62px;font-size:38.25px;left:-2203.50px">15.9</div>
<div class="t tr" style="top:1406.62px;font-size:38.25px;left:-2029.50px">5.8</div>
<div class="t tr" style="top:1406.62px;font-size:38.25px;left:-1854.00px">10.5</div>
<div class="t tr i" style="top:1406.62px;font-size:38.25px;font-style:italic;color:#ff0000;left:-1610.00px">81.2<span class="pc">%</span></div>
<div class="t tr i" style="top:1406.62px;font-size:38.25px;font-style:italic;color:#ff0000;left:-1373.00px">66.2<span class="pc">%</span></div>
<div class="t tr" style="top:1406.62px;font-size:38.25px;left:-1183.00px">EUR</div>
<div class="t tr" style="top:1406.62px;font-size:38.25px;left:-1009.50px">117.3</div>
<div class="t tr" style="top:1406.62px;font-size:38.25px;left:-834.00px">48.7</div>
<div class="t tr" style="top:1406.62px;font-size:38.25px;left:-659.00px">91.2</div>
<div class="t tr i" style="top:1406.62px;font-size:38.25px;font-style:italic;color:#ff0000;left:-415.00px">87.4<span class="pc">%</span></div>
<div class="t tr i" style="top:1406.62px;font-size:38.25px;font-style:italic;color:#ff0000;left:-167.00px">77.8<span class="pc">%</span></div>
<div class="t tr" style="top:1406.62px;font-size:38.25px;left:31.00px">2.1<span class="pc">%</span></div>
<div class="t tr" style="top:1406.62px;font-size:38.25px;left:206.00px">1.8<span class="pc">%</span></div>
<div class="t tr" style="top:1406.62px;font-size:38.25px;left:380.00px">5.1<span class="pc">%</span></div>
<div class="t tr" style="top:1406.62px;font-size:38.25px;left:1190.00px">Screen Ireland / Comscore / Wide Eye Media</div>
<div class="t tl" style="top:1471.62px;font-size:38.25px;left:8.00px">IT</div>
<div class="t tl" style="top:1475.62px;font-size:38.25px;left:110.00px">Italie<span class="s" style="font-size:26px;vertical-align:18px;"> est</span></div>
<div class="t tr" style="top:1471.62px;font-size:38.25px;left:-2203.50px">98.6</div>
<div class="t tr" style="top:1471.62px;font-size:38.25px;left:-2029.50px">26.8</div>
<div class="t tr" style="top:1471.62px;font-size:38.25px;left:-1854.00px">47.9</div>
<div class="t tr i" style="top:1471.62px;font-size:38.25px;font-style:italic;color:#ff0000;left:-1610.00px">78.7<span class="pc">%</span></div>
<div class="t tr i" style="top:1471.62px;font-size:38.25px;font-style:italic;color:#ff0000;left:-1373.00px">48.6<span class="pc">%</span></div>
<div class="t tr" style="top:1471.62px;font-size:38.25px;left:-1183.00px">EUR</div>
<div class="t tr" style="top:1471.62px;font-size:38.25px;left:-1009.50px">622.3</div>
<div class="t tr" style="top:1471.62px;font-size:38.25px;left:-834.00px">185.9</div>
<div class="t tr" style="top:1471.62px;font-size:38.25px;left:-659.00px">325.5</div>
<div class="t tr i" style="top:1471.62px;font-size:38.25px;font-style:italic;color:#ff0000;left:-415.00px">75.1<span class="pc">%</span></div>
<div class="t tr i" style="top:1471.62px;font-size:38.25px;font-style:italic;color:#ff0000;left:-167.00px">52.3<span class="pc">%</span></div>
<div class="t tr" style="top:1471.62px;font-size:38.25px;left:31.00px">21.0<span class="pc">%</span></div>
<div class="t tr" style="top:1471.62px;font-size:38.25px;left:206.00px">22.5<span class="pc">%</span></div>
<div class="t tr" style="top:1471.62px;font-size:38.25px;left:380.00px">21.2<span class="pc">%</span></div>
<div class="t tr" style="top:1471.62px;font-size:38.25px;left:1190.00px">Cinetel / SIAE</div>
<div class="r" style="left:4px;top:1524px;width:2837px;height:65px;background:#b7dee8"></div>
<div class="r" style="left:2859px;top:1524px;width:524px;height:65px;background:#b7dee8"></div>
<div class="r" style="left:3398px;top:1524px;width:796px;height:65px;background:#b7dee8"></div>
<div class="t tl" style="top:1536.62px;font-size:38.25px;left:8.00px">LT</div>
<div class="t tl" style="top:1536.62px;font-size:38.25px;left:110.00px">Lituanie</div>
<div class="t tr" style="top:1536.62px;font-size:38.25px;left:-2203.50px">4.2</div>
<div class="t tr" style="top:1536.62px;font-size:38.25px;left:-2029.50px">1.3</div>
<div class="t tr" style="top:1536.62px;font-size:38.25px;left:-1854.00px">3.0</div>
<div class="t tr i" style="top:1536.62px;font-size:38.25px;font-style:italic;color:#ff0000;left:-1610.00px">123.8<span class="pc">%</span></div>
<div class="t tr i" style="top:1536.62px;font-size:38.25px;font-style:italic;color:#ff0000;left:-1373.00px">71.9<span class="pc">%</span></div>
<div class="t tr" style="top:1536.62px;font-size:38.25px;left:-1183.00px">EUR</div>
<div class="t tr" style="top:1536.62px;font-size:38.25px;left:-1009.50px">21.8</div>
<div class="t tr" style="top:1536.62px;font-size:38.25px;left:-834.00px">7.8</div>
<div class="t tr" style="top:1536.62px;font-size:38.25px;left:-659.00px">18.1</div>
<div class="t tr i" style="top:1536.62px;font-size:38.25px;font-style:italic;color:#ff0000;left:-415.00px">133.4<span class="pc">%</span></div>
<div class="t tr i" style="top:1536.62px;font-size:38.25px;font-style:italic;color:#ff0000;left:-167.00px">83.0<span class="pc">%</span></div>
<div class="t tr" style="top:1536.62px;font-size:38.25px;left:31.00px">22.7<span class="pc">%</span></div>
<div class="t tr" style="top:1536.62px;font-size:38.25px;left:206.00px">6.2<span class="pc">%</span></div>
<div class="t tr" style="top:1536.62px;font-size:38.25px;left:380.00px">19.3<span class="pc">%</span></div>
<div class="t tr" style="top:1536.62px;font-size:38.25px;left:1190.00px">Lithuanian Film Centre</div>
<div class="t tl" style="top:1601.62px;font-size:38.25px;left:8.00px">LU</div>
<div class="t tl" style="top:1605.62px;font-size:38.25px;left:110.00px">Luxembourg<span class="s" style="font-size:26px;vertical-align:18px;"> est</span></div>
<div class="t tr" style="top:1601.62px;font-size:38.25px;left:-2203.50px">1.1</div>
<div class="t tr" style="top:1601.62px;font-size:38.25px;left:-2029.50px">0.5</div>
<div class="t tr" style="top:1601.62px;font-size:38.25px;left:-1854.00px">0.8</div>
<div class="t tr i" style="top:1601.62px;font-size:38.25px;font-style:italic;color:#ff0000;left:-1610.00px">53.0<span class="pc">%</span></div>
<div class="t tr i" style="top:1601.62px;font-size:38.25px;font-style:italic;color:#ff0000;left:-1373.00px">67.7<span class="pc">%</span></div>
<div class="t tr" style="top:1601.62px;font-size:38.25px;left:-1183.00px">EUR</div>
<div class="t tr" style="top:1601.62px;font-size:38.25px;left:-1009.50px">9.4</div>
<div class="t tr" style="top:1601.62px;font-size:38.25px;left:-834.00px">4.9</div>
<div class="t tr" style="top:1601.62px;font-size:38.25px;left:-659.00px">8.1</div>
<div class="t tr i" style="top:1601.62px;font-size:38.25px;font-style:italic;color:#ff0000;left:-415.00px">63.9<span class="pc">%</span></div>
<div class="t tr i" style="top:1601.62px;font-size:38.25px;font-style:italic;color:#ff0000;left:-167.00px">85.5<span class="pc">%</span></div>
<div class="t tr" style="top:1601.62px;font-size:38.25px;left:31.00px">3.9<span class="pc">%</span></div>
<div class="t tr" style="top:1601.62px;font-size:38.25px;left:206.00px">3.3<span class="pc">%</span></div>
<div class="t tr" style="top:1601.62px;font-size:38.25px;left:380.00px">3.3<span class="pc">%</span></div>
<div class="t tr" style="top:1601.62px;font-size:38.25px;left:1190.00px">CNA</div>
<div class="r" style="left:4px;top:1654px;width:2837px;height:65px;background:#b7dee8"></div>
<div class="r" style="left:2859px;top:1654px;width:524px;height:65px;background:#b7dee8"></div>
<div class="r" style="left:3398px;top:1654px;width:796px;height:65px;background:#b7dee8"></div>
<div class="t tl" style="top:1666.62px;font-size:38.25px;left:8.00px">LV</div>
<div class="t tl" style="top:1666.62px;font-size:38.25px;left:110.00px">Lettonie</div>
<div class="t tr" style="top:1666.62px;font-size:38.25px;left:-2203.50px">2.6</div>
<div class="t tr" style="top:1666.62px;font-size:38.25px;left:-2029.50px">0.5</div>
<div class="t tr" style="top:1666.62px;font-size:38.25px;left:-1854.00px">1.7</div>
<div class="t tr i" style="top:1666.62px;font-size:38.25px;font-style:italic;color:#ff0000;left:-1610.00px">240.8<span class="pc">%</span></div>
<div class="t tr i" style="top:1666.62px;font-size:38.25px;font-style:italic;color:#ff0000;left:-1373.00px">66.6<span class="pc">%</span></div>
<div class="t tr" style="top:1666.62px;font-size:38.25px;left:-1183.00px">EUR</div>
<div class="t tr" style="top:1666.62px;font-size:38.25px;left:-1009.50px">13.7</div>
<div class="t tr" style="top:1666.62px;font-size:38.25px;left:-834.00px">3.1</div>
<div class="t tr" style="top:1666.62px;font-size:38.25px;left:-659.00px">11.2</div>
<div class="t tr i" style="top:1666.62px;font-size:38.25px;font-style:italic;color:#ff0000;left:-415.00px">259.9<span class="pc">%</span></div>
<div class="t tr i" style="top:1666.62px;font-size:38.25px;font-style:italic;color:#ff0000;left:-167.00px">81.5<span class="pc">%</span></div>
<div class="t tr" style="top:1666.62px;font-size:38.25px;left:31.00px">16.7<span class="pc">%</span></div>
<div class="t tr" style="top:1666.62px;font-size:38.25px;left:206.00px">15.8<span class="pc">%</span></div>
<div class="t tr" style="top:1666.62px;font-size:38.25px;left:380.00px">11.0<span class="pc">%</span></div>
<div class="t tr" style="top:1666.62px;font-size:38.25px;left:1190.00px">National Film Centre</div>
<div class="t tl" style="top:1731.62px;font-size:38.25px;left:8.00px">MT</div>
<div class="t tl" style="top:1735.62px;font-size:38.25px;left:110.00px">Malte<span class="s" style="font-size:26px;vertical-align:18px;"> est</span></div>
<div class="t tr" style="top:1731.62px;font-size:38.25px;left:-2203.50px">0.8</div>
<div class="t tr" style="top:1731.62px;font-size:38.25px;left:-2029.50px">0.3</div>
<div class="t tr" style="top:1731.62px;font-size:38.25px;left:-1854.00px">~</div>
<div class="t tr i" style="top:1731.62px;font-size:38.25px;font-style:italic;color:#ff0000;left:-1614.00px">~</div>
<div class="t tr i" style="top:1731.62px;font-size:38.25px;font-style:italic;color:#ff0000;left:-1377.00px">~</div>
<div class="t tr" style="top:1731.62px;font-size:38.25px;left:-1183.00px">EUR</div>
<div class="t tr" style="top:1731.62px;font-size:38.25px;left:-1009.50px">5.1</div>
<div class="t tr" style="top:1731.62px;font-size:38.25px;left:-834.00px">2.0</div>
<div class="t tr" style="top:1731.62px;font-size:38.25px;left:-659.00px">~</div>
<div class="t tr i" style="top:1731.62px;font-size:38.25px;font-style:italic;color:#ff0000;left:-419.00px">~</div>
<div class="t tr i" style="top:1731.62px;font-size:38.25px;font-style:italic;color:#ff0000;left:-171.00px">~</div>
<div class="t tr" style="top:1731.62px;font-size:38.25px;left:31.00px">1.8<span class="pc">%</span></div>
<div class="t tr" style="top:1731.62px;font-size:38.25px;left:206.00px">4.4<span class="pc">%</span></div>
<div class="t tr" style="top:1731.62px;font-size:38.25px;left:376.00px">~</div>
<div class="t tr" style="top:1731.62px;font-size:38.25px;left:1190.00px">National Statistics Office</div>
<div class="r" style="left:4px;top:1784px;width:2837px;height:65px;background:#b7dee8"></div>
<div class="r" style="left:2859px;top:1784px;width:524px;height:65px;background:#b7dee8"></div>
<div class="r" style="left:3398px;top:1784px;width:796px;height:65px;background:#b7dee8"></div>
<div class="t tl" style="top:1796.62px;font-size:38.25px;left:8.00px">NL</div>
<div class="t tl" style="top:1796.62px;font-size:38.25px;left:110.00px">Pays-Bas</div>
<div class="t tr" style="top:1796.62px;font-size:38.25px;left:-2203.50px">36.6</div>
<div class="t tr" style="top:1796.62px;font-size:38.25px;left:-2029.50px">14.3</div>
<div class="t tr" style="top:1796.62px;font-size:38.25px;left:-1854.00px">25.0</div>
<div class="t tr i" style="top:1796.62px;font-size:38.25px;font-style:italic;color:#ff0000;left:-1610.00px">75.0<span class="pc">%</span></div>
<div class="t tr i" style="top:1796.62px;font-size:38.25px;font-style:italic;color:#ff0000;left:-1373.00px">68.3<span class="pc">%</span></div>
<div class="t tr" style="top:1796.62px;font-size:38.25px;left:-1183.00px">EUR</div>
<div class="t tr" style="top:1796.62px;font-size:38.25px;left:-1009.50px">320.6</div>
<div class="t tr" style="top:1796.62px;font-size:38.25px;left:-834.00px">143.0</div>
<div class="t tr" style="top:1796.62px;font-size:38.25px;left:-659.00px">258.5</div>
<div class="t tr i" style="top:1796.62px;font-size:38.25px;font-style:italic;color:#ff0000;left:-415.00px">80.8<span class="pc">%</span></div>
<div class="t tr i" style="top:1796.62px;font-size:38.25px;font-style:italic;color:#ff0000;left:-167.00px">80.6<span class="pc">%</span></div>
<div class="t tr" style="top:1796.62px;font-size:38.25px;left:31.00px">11.9<span class="pc">%</span></div>
<div class="t tr" style="top:1796.62px;font-size:38.25px;left:206.00px">23.3<span class="pc">%</span></div>
<div class="t tr" style="top:1796.62px;font-size:38.25px;left:380.00px">16.0<span class="pc">%</span></div>
<div class="t tr" style="top:1796.62px;font-size:38.25px;left:1190.00px">NFF / MaccsBox - NVB &amp; NVF</div>
<div class="t tl" style="top:1861.62px;font-size:38.25px;left:8.00px">PL</div>
<div class="t tl" style="top:1861.62px;font-size:38.25px;left:110.00px">Pologne</div>
<div class="t tr" style="top:1861.62px;font-size:38.25px;left:-2203.50px">59.0</div>
<div class="t tr" style="top:1861.62px;font-size:38.25px;left:-2029.50px">35.2</div>
<div class="t tr" style="top:1861.62px;font-size:38.25px;left:-1854.00px">41.8</div>
<div class="t tr i" style="top:1861.62px;font-size:38.25px;font-style:italic;color:#ff0000;left:-1610.00px">18.7<span class="pc">%</span></div>
<div class="t tr i" style="top:1861.62px;font-size:38.25px;font-style:italic;color:#ff0000;left:-1373.00px">70.8<span class="pc">%</span></div>
<div class="t tr" style="top:1861.62px;font-size:38.25px;left:-1183.00px">PLN</div>
<div class="t tr" style="top:1861.62px;font-size:38.25px;left:-1009.50px">1,113.2</div>
<div class="t tr" style="top:1861.62px;font-size:38.25px;left:-834.00px">616.2</div>
<div class="t tr" style="top:1861.62px;font-size:38.25px;left:-659.00px">725.5</div>
<div class="t tr i" style="top:1861.62px;font-size:38.25px;font-style:italic;color:#ff0000;left:-415.00px">17.7<span class="pc">%</span></div>
<div class="t tr i" style="top:1861.62px;font-size:38.25px;font-style:italic;color:#ff0000;left:-167.00px">65.2<span class="pc">%</span></div>
<div class="t tr" style="top:1861.62px;font-size:38.25px;left:31.00px">28.0<span class="pc">%</span></div>
<div class="t tr" style="top:1861.62px;font-size:38.25px;left:206.00px">20.5<span class="pc">%</span></div>
<div class="t tr" style="top:1861.62px;font-size:38.25px;left:380.00px">19.1<span class="pc">%</span></div>
<div class="t tr" style="top:1861.62px;font-size:38.25px;left:1190.00px">Polish Film Institute</div>
<div class="r" style="left:4px;top:1914px;width:2837px;height:65px;background:#b7dee8"></div>
<div class="r" style="left:2859px;top:1914px;width:524px;height:65px;background:#b7dee8"></div>
<div class="r" style="left:3398px;top:1914px;width:796px;height:65px;background:#b7dee8"></div>
<div class="t tl" style="top:1926.62px;font-size:38.25px;left:8.00px">PT</div>
<div class="t tl" style="top:1926.62px;font-size:38.25px;left:110.00px">Portugal</div>
<div class="t tr" style="top:1926.62px;font-size:38.25px;left:-2203.50px">15.3</div>
<div class="t tr" style="top:1926.62px;font-size:38.25px;left:-2029.50px">5.5</div>
<div class="t tr" style="top:1926.62px;font-size:38.25px;left:-1854.00px">9.6</div>
<div class="t tr i" style="top:1926.62px;font-size:38.25px;font-style:italic;color:#ff0000;left:-1610.00px">75.1<span class="pc">%</span></div>
<div class="t tr i" style="top:1926.62px;font-size:38.25px;font-style:italic;color:#ff0000;left:-1373.00px">62.7<span class="pc">%</span></div>
<div class="t tr" style="top:1926.62px;font-size:38.25px;left:-1183.00px">EUR</div>
<div class="t tr" style="top:1926.62px;font-size:38.25px;left:-1009.50px">81.2</div>
<div class="t tr" style="top:1926.62px;font-size:38.25px;left:-834.00px">30.6</div>
<div class="t tr" style="top:1926.62px;font-size:38.25px;left:-659.00px">55.4</div>
<div class="t tr i" style="top:1926.62px;font-size:38.25px;font-style:italic;color:#ff0000;left:-415.00px">80.8<span class="pc">%</span></div>
<div class="t tr i" style="top:1926.62px;font-size:38.25px;font-style:italic;color:#ff0000;left:-167.00px">68.2<span class="pc">%</span></div>
<div class="t tr" style="top:1926.62px;font-size:38.25px;left:31.00px">3.0<span class="pc">%</span></div>
<div class="t tr" style="top:1926.62px;font-size:38.25px;left:206.00px">3.0<span class="pc">%</span></div>
<div class="t tr" style="top:1926.62px;font-size:38.25px;left:380.00px">3.0<span class="pc">%</span></div>
<div class="t tr" style="top:1926.62px;font-size:38.25px;left:1190.00px">Instituto do Cinema e do Audiovisual</div>
<div class="t tl" style="top:1991.62px;font-size:38.25px;left:8.00px">RO</div>
<div class="t tl" style="top:1995.62px;font-size:38.25px;left:110.00px">Roumanie<span class="s" style="font-size:26px;vertical-align:18px;"> est</span></div>
<div class="t tr" style="top:1991.62px;font-size:38.25px;left:-2203.50px">13.8</div>
<div class="t tr" style="top:1991.62px;font-size:38.25px;left:-2029.50px">4.7</div>
<div class="t tr" style="top:1991.62px;font-size:38.25px;left:-1854.00px">11.2</div>
<div class="t tr i" style="top:1991.62px;font-size:38.25px;font-style:italic;color:#ff0000;left:-1610.00px">139.8<span class="pc">%</span></div>
<div class="t tr i" style="top:1991.62px;font-size:38.25px;font-style:italic;color:#ff0000;left:-1373.00px">81.2<span class="pc">%</span></div>
<div class="t tr" style="top:1991.62px;font-size:38.25px;left:-1183.00px">RON</div>
<div class="t tr" style="top:1991.62px;font-size:38.25px;left:-1009.50px">276.6</div>
<div class="t tr" style="top:1991.62px;font-size:38.25px;left:-834.00px">101.7</div>
<div class="t tr" style="top:1991.62px;font-size:38.25px;left:-659.00px">246.2</div>
<div class="t tr i" style="top:1991.62px;font-size:38.25px;font-style:italic;color:#ff0000;left:-415.00px">142.0<span class="pc">%</span></div>
<div class="t tr i" style="top:1991.62px;font-size:38.25px;font-style:italic;color:#ff0000;left:-167.00px">89.0<span class="pc">%</span></div>
<div class="t tr" style="top:1991.62px;font-size:38.25px;left:31.00px">3.9<span class="pc">%</span></div>
<div class="t tr" style="top:1991.62px;font-size:38.25px;left:206.00px">20.0<span class="pc">%</span></div>
<div class="t tr" style="top:1991.62px;font-size:38.25px;left:380.00px">17.0<span class="pc">%</span></div>
<div class="t tr" style="top:1991.62px;font-size:38.25px;left:1190.00px">Centrul National al Cinematografiei</div>
<div class="r" style="left:4px;top:2044px;width:2837px;height:65px;background:#b7dee8"></div>
<div class="r" style="left:2859px;top:2044px;width:524px;height:65px;background:#b7dee8"></div>
<div class="r" style="left:3398px;top:2044px;width:796px;height:65px;background:#b7dee8"></div>
<div class="t tl" style="top:2056.62px;font-size:38.25px;left:8.00px">SE</div>
<div class="t tl" style="top:2056.62px;font-size:38.25px;left:110.00px">Suède</div>
<div class="t tr" style="top:2056.62px;font-size:38.25px;left:-2203.50px">16.4</div>
<div class="t tr" style="top:2056.62px;font-size:38.25px;left:-2029.50px">6.0</div>
<div class="t tr" style="top:2056.62px;font-size:38.25px;left:-1854.00px">10.4</div>
<div class="t tr i" style="top:2056.62px;font-size:38.25px;font-style:italic;color:#ff0000;left:-1610.00px">72.8<span class="pc">%</span></div>
<div class="t tr i" style="top:2056.62px;font-size:38.25px;font-style:italic;color:#ff0000;left:-1373.00px">63.6<span class="pc">%</span></div>
<div class="t tr" style="top:2056.62px;font-size:38.25px;left:-1183.00px">SEK</div>
<div class="t tr" style="top:2056.62px;font-size:38.25px;left:-1009.50px">1,944.3</div>
<div class="t tr" style="top:2056.62px;font-size:38.25px;left:-834.00px">802.5</div>
<div class="t tr" style="top:2056.62px;font-size:38.25px;left:-659.00px">1,389.3</div>
<div class="t tr i" style="top:2056.62px;font-size:38.25px;font-style:italic;color:#ff0000;left:-415.00px">73.1<span class="pc">%</span></div>
<div class="t tr i" style="top:2056.62px;font-size:38.25px;font-style:italic;color:#ff0000;left:-167.00px">71.5<span class="pc">%</span></div>
<div class="t tr" style="top:2056.62px;font-size:38.25px;left:31.00px">16.4<span class="pc">%</span></div>
<div class="t tr" style="top:2056.62px;font-size:38.25px;left:206.00px">12.6<span class="pc">%</span></div>
<div class="t tr" style="top:2056.62px;font-size:38.25px;left:380.00px">19.4<span class="pc">%</span></div>
<div class="t tr" style="top:2056.62px;font-size:38.25px;left:1190.00px">Swedish Film Institute</div>
<div class="t tl" style="top:2121.62px;font-size:38.25px;left:8.00px">SI</div>
<div class="t tl" style="top:2121.62px;font-size:38.25px;left:110.00px">Slovénie</div>
<div class="t tr" style="top:2121.62px;font-size:38.25px;left:-2203.50px">2.4</div>
<div class="t tr" style="top:2121.62px;font-size:38.25px;left:-2029.50px">0.7</div>
<div class="t tr" style="top:2121.62px;font-size:38.25px;left:-1854.00px">1.8</div>
<div class="t tr i" style="top:2121.62px;font-size:38.25px;font-style:italic;color:#ff0000;left:-1610.00px">154.2<span class="pc">%</span></div>
<div class="t tr i" style="top:2121.62px;font-size:38.25px;font-style:italic;color:#ff0000;left:-1373.00px">75.5<span class="pc">%</span></div>
<div class="t tr" style="top:2121.62px;font-size:38.25px;left:-1183.00px">EUR</div>
<div class="t tr" style="top:2121.62px;font-size:38.25px;left:-1009.50px">12.3</div>
<div class="t tr" style="top:2121.62px;font-size:38.25px;left:-834.00px">4.1</div>
<div class="t tr" style="top:2121.62px;font-size:38.25px;left:-659.00px">11.5</div>
<div class="t tr i" style="top:2121.62px;font-size:38.25px;font-style:italic;color:#ff0000;left:-415.00px">182.5<span class="pc">%</span></div>
<div class="t tr i" style="top:2121.62px;font-size:38.25px;font-style:italic;color:#ff0000;left:-167.00px">93.2<span class="pc">%</span></div>
<div class="t tr" style="top:2121.62px;font-size:38.25px;left:31.00px">5.9<span class="pc">%</span></div>
<div class="t tr" style="top:2121.62px;font-size:38.25px;left:206.00px">2.4<span class="pc">%</span></div>
<div class="t tr" style="top:2121.62px;font-size:38.25px;left:380.00px">17.1<span class="pc">%</span></div>
<div class="t tr" style="top:2121.62px;font-size:38.25px;left:1190.00px">Slovenian Film Center</div>
<div class="r" style="left:4px;top:2174px;width:2837px;height:65px;background:#b7dee8"></div>
<div class="r" style="left:2859px;top:2174px;width:524px;height:65px;background:#b7dee8"></div>
<div class="r" style="left:3398px;top:2174px;width:796px;height:65px;background:#b7dee8"></div>
<div class="t tl" style="top:2186.62px;font-size:38.25px;left:8.00px">SK</div>
<div class="t tl" style="top:2186.62px;font-size:38.25px;left:110.00px">République slovaque</div>
<div class="t tr" style="top:2186.62px;font-size:38.25px;left:-2203.50px">6.4</div>
<div class="t tr" style="top:2186.62px;font-size:38.25px;left:-2029.50px">2.0</div>
<div class="t tr" style="top:2186.62px;font-size:38.25px;left:-1854.00px">4.3</div>
<div class="t tr i" style="top:2186.62px;font-size:38.25px;font-style:italic;color:#ff0000;left:-1610.00px">112.7<span class="pc">%</span></div>
<div class="t tr i" style="top:2186.62px;font-size:38.25px;font-style:italic;color:#ff0000;left:-1373.00px">67.8<span class="pc">%</span></div>
<div class="t tr" style="top:2186.62px;font-size:38.25px;left:-1183.00px">EUR</div>
<div class="t tr" style="top:2186.62px;font-size:38.25px;left:-1009.50px">34.9</div>
<div class="t tr" style="top:2186.62px;font-size:38.25px;left:-834.00px">12.4</div>
<div class="t tr" style="top:2186.62px;font-size:38.25px;left:-659.00px">28.0</div>
<div class="t tr i" style="top:2186.62px;font-size:38.25px;font-style:italic;color:#ff0000;left:-415.00px">126.6<span class="pc">%</span></div>
<div class="t tr i" style="top:2186.62px;font-size:38.25px;font-style:italic;color:#ff0000;left:-167.00px">80.1<span class="pc">%</span></div>
<div class="t tr" style="top:2186.62px;font-size:38.25px;left:31.00px">14.0<span class="pc">%</span></div>
<div class="t tr" style="top:2186.62px;font-size:38.25px;left:206.00px">10.0<span class="pc">%</span></div>
<div class="t tr" style="top:2186.62px;font-size:38.25px;left:380.00px">12.7<span class="pc">%</span></div>
<div class="t tr" style="top:2186.62px;font-size:38.25px;left:1190.00px">UFD / Slovak Film Institute</div>
<div class="r" style="left:4px;top:2239px;width:1633px;height:94px;background:#c0c0c0"></div>
<div class="r" style="left:1652px;top:2239px;width:1189px;height:94px;background:#c0c0c0"></div>
<div class="r" style="left:2859px;top:2239px;width:524px;height:94px;background:#c0c0c0"></div>
<div class="r" style="left:3398px;top:2239px;width:796px;height:94px;background:#c0c0c0"></div>
<div class="t tl" style="top:2270.62px;font-size:38.25px;font-weight:bold;left:9.00px">EU 27<span class="s" style="font-size:26px;vertical-align:19px;font-weight:bold;">   est</span></div>
<div class="t tr" style="top:2266.62px;font-size:38.25px;font-weight:bold;left:-2203.50px">807</div>
<div class="t tr" style="top:2266.62px;font-size:38.25px;font-weight:bold;left:-2029.50px">329</div>
<div class="t tr" style="top:2266.62px;font-size:38.25px;font-weight:bold;left:-1854.00px">540</div>
<div class="t tr i" style="top:2266.62px;font-size:38.25px;font-weight:bold;font-style:italic;color:#ff0000;left:-1613.00px">64.1<span class="pc">%</span></div>
<div class="t tr i" style="top:2266.62px;font-size:38.25px;font-weight:bold;font-style:italic;color:#ff0000;left:-1376.00px">66.8<span class="pc">%</span></div>
<div class="t tr" style="top:2266.62px;font-size:38.25px;font-weight:bold;left:-1183.00px">EUR</div>
<div class="t tr" style="top:2266.62px;font-size:38.25px;font-weight:bold;left:-1009.50px">4,297</div>
<div class="t tr" style="top:2266.62px;font-size:38.25px;font-weight:bold;left:-834.00px">2,355</div>
<div class="t tr" style="top:2266.62px;font-size:38.25px;font-weight:bold;left:-659.00px">4,013</div>
<div class="t tr i" style="top:2266.62px;font-size:38.25px;font-weight:bold;font-style:italic;color:#ff0000;left:-418.00px">70.4<span class="pc">%</span></div>
<div class="t tr i" style="top:2266.62px;font-size:38.25px;font-weight:bold;font-style:italic;color:#ff0000;left:-170.00px">93.4<span class="pc">%</span></div>
<div class="t tr" style="top:2266.62px;font-size:38.25px;font-weight:bold;left:27.00px">~</div>
<div class="t tr" style="top:2266.62px;font-size:38.25px;font-weight:bold;left:202.00px">~</div>
<div class="t tr" style="top:2266.62px;font-size:38.25px;font-weight:bold;left:376.00px">~</div>
<div class="t tr" style="top:2266.62px;font-size:38.25px;font-weight:bold;left:1190.00px">Observatoire européen de l'audiovisuel</div>
<div class="t tl" style="top:2345.62px;font-size:38.25px;left:8.00px">GB</div>
<div class="t tl" style="top:2349.62px;font-size:38.25px;left:110.00px">Royaume-Uni<span class="s" style="font-size:26px;vertical-align:18px;"> (2)</span></div>
<div class="t tr" style="top:2345.62px;font-size:38.25px;left:-2203.50px">174.6</div>
<div class="t tr" style="top:2345.62px;font-size:38.25px;left:-2029.50px">74.0</div>
<div class="t tr" style="top:2345.62px;font-size:38.25px;left:-1854.00px">117.3</div>
<div class="t tr i" style="top:2345.62px;font-size:38.25px;font-style:italic;color:#ff0000;left:-1610.00px">58.5<span class="pc">%</span></div>
<div class="t tr i" style="top:2345.62px;font-size:38.25px;font-style:italic;color:#ff0000;left:-1373.00px">67.2<span class="pc">%</span></div>
<div class="t tr" style="top:2345.62px;font-size:38.25px;left:-1183.00px">GBP</div>
<div class="t tr" style="top:2345.62px;font-size:38.25px;left:-1009.50px">1,271.8</div>
<div class="t tr" style="top:2345.62px;font-size:38.25px;left:-834.00px">541.9</div>
<div class="t tr" style="top:2345.62px;font-size:38.25px;left:-659.00px">903.5</div>
<div class="t tr i" style="top:2345.62px;font-size:38.25px;font-style:italic;color:#ff0000;left:-415.00px">66.7<span class="pc">%</span></div>
<div class="t tr i" style="top:2345.62px;font-size:38.25px;font-style:italic;color:#ff0000;left:-167.00px">71.0<span class="pc">%</span></div>
<div class="t tr" style="top:2345.62px;font-size:38.25px;left:31.00px">43.6<span class="pc">%</span></div>
<div class="t tr" style="top:2345.62px;font-size:38.25px;left:206.00px">42.0<span class="pc">%</span></div>
<div class="t tr" style="top:2345.62px;font-size:38.25px;left:380.00px">30.1<span class="pc">%</span></div>
<div class="t tr" style="top:2345.62px;font-size:38.25px;left:1190.00px">BFI / Comscore</div>
<div class="r" style="left:4px;top:2398px;width:1633px;height:94px;background:#c0c0c0"></div>
<div class="r" style="left:1652px;top:2398px;width:1189px;height:94px;background:#c0c0c0"></div>
<div class="r" style="left:2859px;top:2398px;width:524px;height:94px;background:#c0c0c0"></div>
<div class="r" style="left:3398px;top:2398px;width:796px;height:94px;background:#c0c0c0"></div>
<div class="t tl" style="top:2429.62px;font-size:38.25px;font-weight:bold;left:9.00px">Europe 28 Total<span class="s" style="font-size:26px;vertical-align:19px;font-weight:bold;"> est</span></div>
<div class="t tr" style="top:2425.62px;font-size:38.25px;font-weight:bold;left:-2203.50px">982</div>
<div class="t tr" style="top:2425.62px;font-size:38.25px;font-weight:bold;left:-2029.50px">403</div>
<div class="t tr" style="top:2425.62px;font-size:38.25px;font-weight:bold;left:-1854.00px">657</div>
<div class="t tr i" style="top:2425.62px;font-size:38.25px;font-weight:bold;font-style:italic;color:#ff0000;left:-1613.00px">63.1<span class="pc">%</span></div>
<div class="t tr i" style="top:2425.62px;font-size:38.25px;font-weight:bold;font-style:italic;color:#ff0000;left:-1376.00px">66.9<span class="pc">%</span></div>
<div class="t tr" style="top:2425.62px;font-size:38.25px;font-weight:bold;left:-1183.00px">EUR</div>
<div class="t tr" style="top:2425.62px;font-size:38.25px;font-weight:bold;left:-1009.50px">6,998</div>
<div class="t tr" style="top:2425.62px;font-size:38.25px;font-weight:bold;left:-834.00px">2,986</div>
<div class="t tr" style="top:2425.62px;font-size:38.25px;font-weight:bold;left:-659.00px">5,072</div>
<div class="t tr i" style="top:2425.62px;font-size:38.25px;font-weight:bold;font-style:italic;color:#ff0000;left:-418.00px">69.9<span class="pc">%</span></div>
<div class="t tr i" style="top:2425.62px;font-size:38.25px;font-weight:bold;font-style:italic;color:#ff0000;left:-170.00px">72.5<span class="pc">%</span></div>
<div class="t tr" style="top:2425.62px;font-size:38.25px;font-weight:bold;left:27.00px">~</div>
<div class="t tr" style="top:2425.62px;font-size:38.25px;font-weight:bold;left:202.00px">~</div>
<div class="t tr" style="top:2425.62px;font-size:38.25px;font-weight:bold;left:376.00px">~</div>
<div class="t tr" style="top:2425.62px;font-size:38.25px;font-weight:bold;left:1190.00px">Observatoire européen de l'audiovisuel</div>
<div class="t tl" style="top:2560.94px;font-size:42.6px;font-weight:bold;left:9.50px">Autres pays européens</div>
<div class="t tl" style="top:2634.62px;font-size:38.25px;left:8.00px">BA</div>
<div class="t tl" style="top:2634.62px;font-size:38.25px;left:110.00px">Bosnie et Herzégovine</div>
<div class="t tr" style="top:2634.62px;font-size:38.25px;left:-2203.50px">1.2</div>
<div class="t tr" style="top:2634.62px;font-size:38.25px;left:-2029.50px">1.1</div>
<div class="t tr" style="top:2634.62px;font-size:38.25px;left:-1854.00px">1.1</div>
<div class="t tr i" style="top:2634.62px;font-size:38.25px;font-style:italic;color:#ff0000;left:-1610.00px">0.7<span class="pc">%</span></div>
<div class="t tr i" style="top:2634.62px;font-size:38.25px;font-style:italic;color:#ff0000;left:-1373.00px">94.7<span class="pc">%</span></div>
<div class="t tc" style="top:2634.62px;font-size:38.25px;left:238.00px">BAM</div>
<div class="t tr" style="top:2634.62px;font-size:38.25px;left:-1009.50px">6.2</div>
<div class="t tr" style="top:2634.62px;font-size:38.25px;left:-834.00px">6.8</div>
<div class="t tr" style="top:2634.62px;font-size:38.25px;left:-659.00px">7.2</div>
<div class="t tr i" style="top:2634.62px;font-size:38.25px;font-style:italic;color:#ff0000;left:-415.00px">6.8<span class="pc">%</span></div>
<div class="t tr i" style="top:2634.62px;font-size:38.25px;font-style:italic;color:#ff0000;left:-167.00px">117.0<span class="pc">%</span></div>
<div class="t tr" style="top:2634.62px;font-size:38.25px;left:31.00px">0.3<span class="pc">%</span></div>
<div class="t tr" style="top:2634.62px;font-size:38.25px;left:206.00px">3.3<span class="pc">%</span></div>
<div class="t tr" style="top:2634.62px;font-size:38.25px;left:380.00px">6.1<span class="pc">%</span></div>
<div class="t tr" style="top:2634.62px;font-size:38.25px;left:1190.00px">Sarajevo Film Festival</div>
<div class="r" style="left:4px;top:2687px;width:1633px;height:65px;background:#b7dee8"></div>
<div class="r" style="left:1652px;top:2687px;width:1189px;height:65px;background:#b7dee8"></div>
<div class="r" style="left:2859px;top:2687px;width:524px;height:65px;background:#b7dee8"></div>
<div class="r" style="left:3398px;top:2687px;width:796px;height:65px;background:#b7dee8"></div>
<div class="t tl" style="top:2699.62px;font-size:38.25px;left:8.00px">CH</div>
<div class="t tl" style="top:2699.62px;font-size:38.25px;left:110.00px">Suisse</div>
<div class="t tr" style="top:2699.62px;font-size:38.25px;left:-2203.50px">12.6</div>
<div class="t tr" style="top:2699.62px;font-size:38.25px;left:-2029.50px">5.4</div>
<div class="t tr" style="top:2699.62px;font-size:38.25px;left:-1854.00px">8.7</div>
<div class="t tr i" style="top:2699.62px;font-size:38.25px;font-style:italic;color:#ff0000;left:-1610.00px">61.7<span class="pc">%</span></div>
<div class="t tr i" style="top:2699.62px;font-size:38.25px;font-style:italic;color:#ff0000;left:-1373.00px">69.2<span class="pc">%</span></div>
<div class="t tc" style="top:2699.62px;font-size:38.25px;left:238.00px">CHF</div>
<div class="t tr" style="top:2699.62px;font-size:38.25px;left:-1009.50px">192.4</div>
<div class="t tr" style="top:2699.62px;font-size:38.25px;left:-834.00px">85.2</div>
<div class="t tr" style="top:2699.62px;font-size:38.25px;left:-659.00px">138.2</div>
<div class="t tr i" style="top:2699.62px;font-size:38.25px;font-style:italic;color:#ff0000;left:-415.00px">62.2<span class="pc">%</span></div>
<div class="t tr i" style="top:2699.62px;font-size:38.25px;font-style:italic;color:#ff0000;left:-167.00px">71.9<span class="pc">%</span></div>
<div class="t tr" style="top:2699.62px;font-size:38.25px;left:31.00px">7.8<span class="pc">%</span></div>
<div class="t tr" style="top:2699.62px;font-size:38.25px;left:206.00px">4.9<span class="pc">%</span></div>
<div class="t tr" style="top:2699.62px;font-size:38.25px;left:380.00px">7.2<span class="pc">%</span></div>
<div class="t tr" style="top:2699.62px;font-size:38.25px;left:1190.00px">Swiss Federal Statistics Office</div>
<div class="t tl" style="top:2765.62px;font-size:38.25px;left:8.00px">IS</div>
<div class="t tl" style="top:2768.62px;font-size:38.25px;left:110.00px">Islande<span class="s" style="font-size:26px;vertical-align:18px;"> est</span></div>
<div class="t tr" style="top:2765.62px;font-size:38.25px;left:-2203.50px">1.4</div>
<div class="t tr" style="top:2765.62px;font-size:38.25px;left:-2029.50px">0.8</div>
<div class="t tr" style="top:2765.62px;font-size:38.25px;left:-1854.00px">0.8</div>
<div class="t tr i" style="top:2765.62px;font-size:38.25px;font-style:italic;color:#ff0000;left:-1610.00px">10.4<span class="pc">%</span></div>
<div class="t tr i" style="top:2765.62px;font-size:38.25px;font-style:italic;color:#ff0000;left:-1373.00px">62.1<span class="pc">%</span></div>
<div class="t tc" style="top:2765.62px;font-size:38.25px;left:238.00px">ISK</div>
<div class="t tr" style="top:2765.62px;font-size:38.25px;left:-1009.50px">1,688.9</div>
<div class="t tr" style="top:2765.62px;font-size:38.25px;left:-834.00px">1,084.5</div>
<div class="t tr" style="top:2765.62px;font-size:38.25px;left:-659.00px">1,281.0</div>
<div class="t tr i" style="top:2765.62px;font-size:38.25px;font-style:italic;color:#ff0000;left:-415.00px">18.1<span class="pc">%</span></div>
<div class="t tr i" style="top:2765.62px;font-size:38.25px;font-style:italic;color:#ff0000;left:-167.00px">75.8<span class="pc">%</span></div>
<div class="t tr" style="top:2765.62px;font-size:38.25px;left:31.00px">8.2<span class="pc">%</span></div>
<div class="t tr" style="top:2765.62px;font-size:38.25px;left:206.00px">11.2<span class="pc">%</span></div>
<div class="t tr" style="top:2765.62px;font-size:38.25px;left:380.00px">9.2<span class="pc">%</span></div>
<div class="t tr" style="top:2765.62px;font-size:38.25px;left:1190.00px">HI / Icelandic Film Centre / OBS</div>
<div class="r" style="left:4px;top:2817px;width:1633px;height:65px;background:#b7dee8"></div>
<div class="r" style="left:1652px;top:2817px;width:1189px;height:65px;background:#b7dee8"></div>
<div class="r" style="left:2859px;top:2817px;width:524px;height:65px;background:#b7dee8"></div>
<div class="r" style="left:3398px;top:2817px;width:796px;height:65px;background:#b7dee8"></div>
<div class="t tl" style="top:2830.62px;font-size:38.25px;left:8.00px">ME</div>
<div class="t tl" style="top:2830.62px;font-size:38.25px;left:110.00px">Monténégro</div>
<div class="t tr" style="top:2830.62px;font-size:38.25px;left:-2203.50px">0.5</div>
<div class="t tr" style="top:2830.62px;font-size:38.25px;left:-2029.50px">0.4</div>
<div class="t tr" style="top:2830.62px;font-size:38.25px;left:-1854.00px">0.4</div>
<div class="t tr i" style="top:2830.62px;font-size:38.25px;font-style:italic;color:#ff0000;left:-1610.00px">-0.9<span class="pc">%</span></div>
<div class="t tr i" style="top:2830.62px;font-size:38.25px;font-style:italic;color:#ff0000;left:-1373.00px">84.7<span class="pc">%</span></div>
<div class="t tc" style="top:2830.62px;font-size:38.25px;left:238.00px">EUR</div>
<div class="t tr" style="top:2830.62px;font-size:38.25px;left:-1009.50px">1.1</div>
<div class="t tr" style="top:2830.62px;font-size:38.25px;left:-834.00px">0.7</div>
<div class="t tr" style="top:2830.62px;font-size:38.25px;left:-659.00px">0.8</div>
<div class="t tr i" style="top:2830.62px;font-size:38.25px;font-style:italic;color:#ff0000;left:-415.00px">11.8<span class="pc">%</span></div>
<div class="t tr i" style="top:2830.62px;font-size:38.25px;font-style:italic;color:#ff0000;left:-167.00px">75.7<span class="pc">%</span></div>
<div class="t tr" style="top:2830.62px;font-size:38.25px;left:31.00px">3.6<span class="pc">%</span></div>
<div class="t tr" style="top:2830.62px;font-size:38.25px;left:206.00px">0.4<span class="pc">%</span></div>
<div class="t tr" style="top:2830.62px;font-size:38.25px;left:380.00px">0.0<span class="pc">%</span></div>
<div class="t tr" style="top:2830.62px;font-size:38.25px;left:1190.00px">Film Centre of Montenegro</div>
<div class="t tl" style="top:2895.62px;font-size:38.25px;left:8.00px">MK</div>
<div class="t tl" style="top:2898.62px;font-size:38.25px;left:110.00px">Macédoine du Nord<span class="s" style="font-size:26px;vertical-align:18px;"> est</span></div>
<div class="t tr" style="top:2895.62px;font-size:38.25px;left:-2203.50px">0.5</div>
<div class="t tr" style="top:2895.62px;font-size:38.25px;left:-2029.50px">0.2</div>
<div class="t tr" style="top:2895.62px;font-size:38.25px;left:-1854.00px">0.3</div>
<div class="t tr i" style="top:2895.62px;font-size:38.25px;font-style:italic;color:#ff0000;left:-1610.00px">64.0<span class="pc">%</span></div>
<div class="t tr i" style="top:2895.62px;font-size:38.25px;font-style:italic;color:#ff0000;left:-1373.00px">56.8<span class="pc">%</span></div>
<div class="t tc" style="top:2895.62px;font-size:38.25px;left:238.00px">MKD</div>
<div class="t tr" style="top:2895.62px;font-size:38.25px;left:-1009.50px">87.2</div>
<div class="t tr" style="top:2895.62px;font-size:38.25px;left:-834.00px">33.6</div>
<div class="t tr" style="top:2895.62px;font-size:38.25px;left:-659.00px">55.6</div>
<div class="t tr i" style="top:2895.62px;font-size:38.25px;font-style:italic;color:#ff0000;left:-415.00px">65.4<span class="pc">%</span></div>
<div class="t tr i" style="top:2895.62px;font-size:38.25px;font-style:italic;color:#ff0000;left:-167.00px">63.7<span class="pc">%</span></div>
<div class="t tr" style="top:2895.62px;font-size:38.25px;left:31.00px">4.5<span class="pc">%</span></div>
<div class="t tr" style="top:2895.62px;font-size:38.25px;left:206.00px">2.1<span class="pc">%</span></div>
<div class="t tr" style="top:2895.62px;font-size:38.25px;left:380.00px">9.6<span class="pc">%</span></div>
<div class="t tr" style="top:2895.62px;font-size:38.25px;left:1190.00px">State Statistical Office / North Macedonia Film Agency</div>
<div class="r" style="left:4px;top:2947px;width:1633px;height:65px;background:#b7dee8"></div>
<div class="r" style="left:1652px;top:2947px;width:1189px;height:65px;background:#b7dee8"></div>
<div class="r" style="left:2859px;top:2947px;width:524px;height:65px;background:#b7dee8"></div>
<div class="r" style="left:3398px;top:2947px;width:796px;height:65px;background:#b7dee8"></div>
<div class="t tl" style="top:2960.62px;font-size:38.25px;left:8.00px">NO</div>
<div class="t tl" style="top:2960.62px;font-size:38.25px;left:110.00px">Norvège</div>
<div class="t tr" style="top:2960.62px;font-size:38.25px;left:-2203.50px">11.7</div>
<div class="t tr" style="top:2960.62px;font-size:38.25px;left:-2029.50px">5.7</div>
<div class="t tr" style="top:2960.62px;font-size:38.25px;left:-1854.00px">8.8</div>
<div class="t tr i" style="top:2960.62px;font-size:38.25px;font-style:italic;color:#ff0000;left:-1610.00px">54.8<span class="pc">%</span></div>
<div class="t tr i" style="top:2960.62px;font-size:38.25px;font-style:italic;color:#ff0000;left:-1373.00px">74.8<span class="pc">%</span></div>
<div class="t tc" style="top:2960.62px;font-size:38.25px;left:238.00px">NOK</div>
<div class="t tr" style="top:2960.62px;font-size:38.25px;left:-1009.50px">1,310.4</div>
<div class="t tr" style="top:2960.62px;font-size:38.25px;left:-834.00px">678.4</div>
<div class="t tr" style="top:2960.62px;font-size:38.25px;left:-659.00px">1,101.9</div>
<div class="t tr i" style="top:2960.62px;font-size:38.25px;font-style:italic;color:#ff0000;left:-415.00px">62.4<span class="pc">%</span></div>
<div class="t tr i" style="top:2960.62px;font-size:38.25px;font-style:italic;color:#ff0000;left:-167.00px">84.1<span class="pc">%</span></div>
<div class="t tr" style="top:2960.62px;font-size:38.25px;left:31.00px">20.5<span class="pc">%</span></div>
<div class="t tr" style="top:2960.62px;font-size:38.25px;left:206.00px">30.1<span class="pc">%</span></div>
<div class="t tr" style="top:2960.62px;font-size:38.25px;left:380.00px">24.5<span class="pc">%</span></div>
<div class="t tr" style="top:2960.62px;font-size:38.25px;left:1190.00px">Norwegian Film Institute</div>
<div class="t tl" style="top:3025.62px;font-size:38.25px;left:8.00px">TR</div>
<div class="t tl" style="top:3025.62px;font-size:38.25px;left:110.00px">Türkiye</div>
<div class="t tr" style="top:3025.62px;font-size:38.25px;left:-2203.50px">67.0</div>
<div class="t tr" style="top:3025.62px;font-size:38.25px;left:-2029.50px">12.4</div>
<div class="t tr" style="top:3025.62px;font-size:38.25px;left:-1854.00px">35.6</div>
<div class="t tr i" style="top:3025.62px;font-size:38.25px;font-style:italic;color:#ff0000;left:-1610.00px">187.5<span class="pc">%</span></div>
<div class="t tr i" style="top:3025.62px;font-size:38.25px;font-style:italic;color:#ff0000;left:-1373.00px">53.2<span class="pc">%</span></div>
<div class="t tc" style="top:3025.62px;font-size:38.25px;left:238.00px">TRY</div>
<div class="t tr" style="top:3025.62px;font-size:38.25px;left:-1009.50px">912.3</div>
<div class="t tr" style="top:3025.62px;font-size:38.25px;left:-834.00px">284.2</div>
<div class="t tr" style="top:3025.62px;font-size:38.25px;left:-659.00px">1,331.9</div>
<div class="t tr i" style="top:3025.62px;font-size:38.25px;font-style:italic;color:#ff0000;left:-415.00px">368.6<span class="pc">%</span></div>
<div class="t tr i" style="top:3025.62px;font-size:38.25px;font-style:italic;color:#ff0000;left:-167.00px">146.0<span class="pc">%</span></div>
<div class="t tr" style="top:3025.62px;font-size:38.25px;left:31.00px">59.0<span class="pc">%</span></div>
<div class="t tr" style="top:3025.62px;font-size:38.25px;left:206.00px">23.3<span class="pc">%</span></div>
<div class="t tr" style="top:3025.62px;font-size:38.25px;left:380.00px">50.8<span class="pc">%</span></div>
<div class="t tr" style="top:3025.62px;font-size:38.25px;left:1190.00px">Min. Cult. / Antrakt</div>
<div class="t tl" style="top:3128.94px;font-size:42.6px;left:11.00px">1) Basée sur les entrées en salles (excepté pour GB et IE, pour lesquels la part est basée sur les recettes brutes des salles). Tient compte des coproductions minoritaires excepté pour CZ, DK, HU, IS, NL, NO, RO, RU et SE.</div>
<div class="t tl" style="top:3214.44px;font-size:42.6px;left:11.00px">2) La part de marché des films nationaux des films qualifiés de britanniques est basée sur les recettes brutes des salles au Royaume-Uni et en Irlande et tient compte des coproductions minoritaires et des films à capitaux étrangers soutenus par les studios US.</div>
<div class="t tr" style="top:3304.94px;font-size:42.6px;left:1190.00px">Source : Observatoire européen de l'audiovisuel</div>
</body></html>
